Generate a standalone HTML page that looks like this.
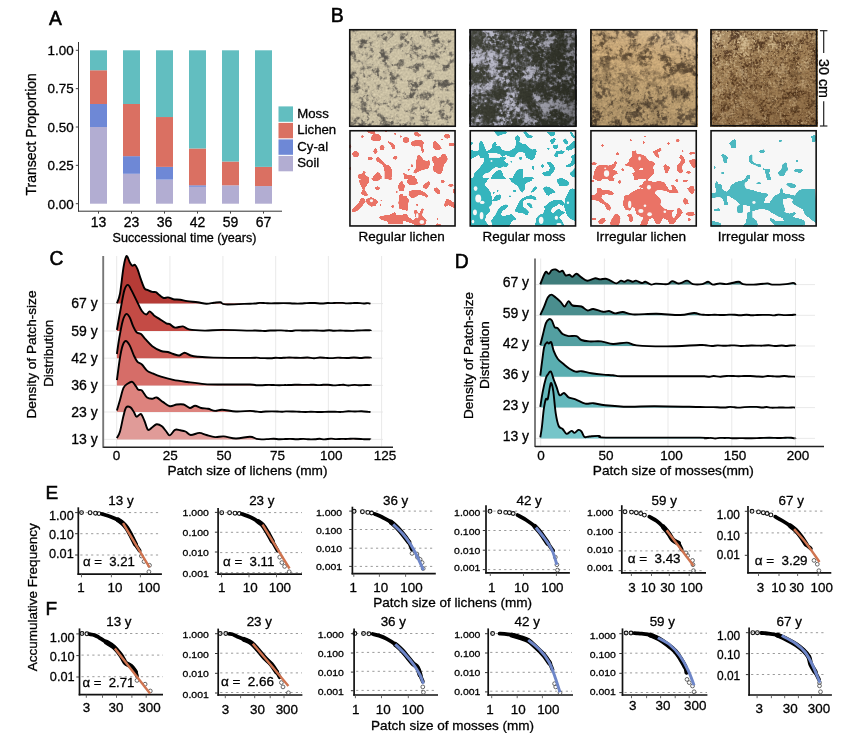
<!DOCTYPE html>
<html><head><meta charset="utf-8"><style>
html,body{margin:0;padding:0;background:#fff;width:860px;height:741px;overflow:hidden}
svg{display:block;filter:blur(0.35px)}
text{font-family:"Liberation Sans", sans-serif;stroke:#000;stroke-width:0.3px}
</style></head><body>
<svg width="860" height="741" viewBox="0 0 860 741">
<text x="49.00" y="25.00" font-size="19.3" text-anchor="start" fill="#000" style="stroke-width:0.55px">A</text>
<line x1="78.50" y1="42.00" x2="78.50" y2="211.60" stroke="#333" stroke-width="1.0"/>
<line x1="78.00" y1="211.20" x2="282.00" y2="211.20" stroke="#333" stroke-width="1.0"/>
<line x1="75.80" y1="203.70" x2="78.50" y2="203.70" stroke="#444" stroke-width="1"/>
<text x="73.60" y="208.50" font-size="13.4" text-anchor="end" fill="#000">0.00</text>
<line x1="75.80" y1="165.35" x2="78.50" y2="165.35" stroke="#444" stroke-width="1"/>
<text x="73.60" y="170.15" font-size="13.4" text-anchor="end" fill="#000">0.25</text>
<line x1="75.80" y1="127.00" x2="78.50" y2="127.00" stroke="#444" stroke-width="1"/>
<text x="73.60" y="131.80" font-size="13.4" text-anchor="end" fill="#000">0.50</text>
<line x1="75.80" y1="88.65" x2="78.50" y2="88.65" stroke="#444" stroke-width="1"/>
<text x="73.60" y="93.45" font-size="13.4" text-anchor="end" fill="#000">0.75</text>
<line x1="75.80" y1="50.30" x2="78.50" y2="50.30" stroke="#444" stroke-width="1"/>
<text x="73.60" y="55.10" font-size="13.4" text-anchor="end" fill="#000">1.00</text>
<rect x="90.00" y="127.00" width="17.00" height="76.70" fill="#B2ADD2"/>
<rect x="90.00" y="103.99" width="17.00" height="23.01" fill="#6E88D6"/>
<rect x="90.00" y="70.24" width="17.00" height="33.75" fill="#DA7062"/>
<rect x="90.00" y="50.30" width="17.00" height="19.94" fill="#62BEC0"/>
<line x1="98.50" y1="211.20" x2="98.50" y2="213.60" stroke="#444" stroke-width="1"/>
<text x="98.50" y="226.90" font-size="14" text-anchor="middle" fill="#000">13</text>
<rect x="123.00" y="173.79" width="17.00" height="29.91" fill="#B2ADD2"/>
<rect x="123.00" y="156.15" width="17.00" height="17.64" fill="#6E88D6"/>
<rect x="123.00" y="103.99" width="17.00" height="52.16" fill="#DA7062"/>
<rect x="123.00" y="50.30" width="17.00" height="53.69" fill="#62BEC0"/>
<line x1="131.50" y1="211.20" x2="131.50" y2="213.60" stroke="#444" stroke-width="1"/>
<text x="131.50" y="226.90" font-size="14" text-anchor="middle" fill="#000">23</text>
<rect x="156.00" y="179.62" width="17.00" height="24.08" fill="#B2ADD2"/>
<rect x="156.00" y="166.88" width="17.00" height="12.73" fill="#6E88D6"/>
<rect x="156.00" y="117.03" width="17.00" height="49.85" fill="#DA7062"/>
<rect x="156.00" y="50.30" width="17.00" height="66.73" fill="#62BEC0"/>
<line x1="164.50" y1="211.20" x2="164.50" y2="213.60" stroke="#444" stroke-width="1"/>
<text x="164.50" y="226.90" font-size="14" text-anchor="middle" fill="#000">36</text>
<rect x="189.00" y="186.83" width="17.00" height="16.87" fill="#B2ADD2"/>
<rect x="189.00" y="185.29" width="17.00" height="1.53" fill="#6E88D6"/>
<rect x="189.00" y="148.48" width="17.00" height="36.82" fill="#DA7062"/>
<rect x="189.00" y="50.30" width="17.00" height="98.18" fill="#62BEC0"/>
<line x1="197.50" y1="211.20" x2="197.50" y2="213.60" stroke="#444" stroke-width="1"/>
<text x="197.50" y="226.90" font-size="14" text-anchor="middle" fill="#000">42</text>
<rect x="222.00" y="185.29" width="17.00" height="18.41" fill="#B2ADD2"/>
<rect x="222.00" y="161.51" width="17.00" height="23.78" fill="#DA7062"/>
<rect x="222.00" y="50.30" width="17.00" height="111.22" fill="#62BEC0"/>
<line x1="230.50" y1="211.20" x2="230.50" y2="213.60" stroke="#444" stroke-width="1"/>
<text x="230.50" y="226.90" font-size="14" text-anchor="middle" fill="#000">59</text>
<rect x="255.00" y="186.06" width="17.00" height="17.64" fill="#B2ADD2"/>
<rect x="255.00" y="166.88" width="17.00" height="19.17" fill="#DA7062"/>
<rect x="255.00" y="50.30" width="17.00" height="116.58" fill="#62BEC0"/>
<line x1="263.50" y1="211.20" x2="263.50" y2="213.60" stroke="#444" stroke-width="1"/>
<text x="263.50" y="226.90" font-size="14" text-anchor="middle" fill="#000">67</text>
<text x="112.50" y="241.60" font-size="13" text-anchor="start" fill="#000" textLength="144" lengthAdjust="spacingAndGlyphs">Successional time (years)</text>
<text x="36.20" y="134.30" font-size="14" text-anchor="middle" fill="#000" transform="rotate(-90 36.2 134.3)">Transect Proportion</text>
<rect x="278.50" y="106.40" width="14.50" height="15.40" fill="#62BEC0"/>
<text x="297.30" y="117.90" font-size="13.2" text-anchor="start" fill="#000">Moss</text>
<rect x="278.50" y="122.90" width="14.50" height="15.40" fill="#DA7062"/>
<text x="297.30" y="134.40" font-size="13.2" text-anchor="start" fill="#000">Lichen</text>
<rect x="278.50" y="139.40" width="14.50" height="15.40" fill="#6E88D6"/>
<text x="297.30" y="150.90" font-size="13.2" text-anchor="start" fill="#000">Cy-al</text>
<rect x="278.50" y="155.90" width="14.50" height="15.40" fill="#B2ADD2"/>
<text x="297.30" y="167.40" font-size="13.2" text-anchor="start" fill="#000">Soil</text>
<text x="330.80" y="22.00" font-size="19.5" text-anchor="start" fill="#000" style="stroke-width:0.55px">B</text>
<defs>
<filter id="tex1" x="0" y="0" width="100%" height="100%" color-interpolation-filters="sRGB"><feTurbulence type="fractalNoise" baseFrequency="0.5" numOctaves="2" seed="1" result="gr"/><feColorMatrix in="gr" type="matrix" values="0.191 0 0 0 0.701 0.182 0 0 0 0.666 0.155 0 0 0 0.569 0 0 0 0 1" result="acc"/><feTurbulence type="fractalNoise" baseFrequency="0.1" numOctaves="4" seed="11" result="L0c"/><feTurbulence type="fractalNoise" baseFrequency="0.3" numOctaves="2" seed="4" result="L0f"/><feComposite in="L0c" in2="L0f" operator="arithmetic" k1="0" k2="0.65" k3="0.35" k4="0" result="L0n"/><feColorMatrix in="L0n" type="matrix" values="0 0 0 0 0.612 0 0 0 0 0.580 0 0 0 0 0.510 -6.000 0 0 0 3.180" result="L0"/><feComposite in="L0" in2="acc" operator="over" result="acc"/><feTurbulence type="fractalNoise" baseFrequency="0.1" numOctaves="4" seed="11" result="L1c"/><feTurbulence type="fractalNoise" baseFrequency="0.3" numOctaves="2" seed="4" result="L1f"/><feComposite in="L1c" in2="L1f" operator="arithmetic" k1="0" k2="0.65" k3="0.35" k4="0" result="L1n"/><feColorMatrix in="L1n" type="matrix" values="0 0 0 0 0.361 0 0 0 0 0.345 0 0 0 0 0.314 -6.000 0 0 0 2.760" result="L1"/><feComposite in="L1" in2="acc" operator="over" result="acc"/><feGaussianBlur in="acc" stdDeviation="0.6"/></filter>
<filter id="tex2" x="0" y="0" width="100%" height="100%" color-interpolation-filters="sRGB"><feTurbulence type="fractalNoise" baseFrequency="0.5" numOctaves="2" seed="1" result="gr"/><feColorMatrix in="gr" type="matrix" values="0.076 0 0 0 0.174 0.079 0 0 0 0.180 0.065 0 0 0 0.148 0 0 0 0 1" result="acc"/><feTurbulence type="fractalNoise" baseFrequency="0.06" numOctaves="4" seed="23" result="L0c"/><feTurbulence type="fractalNoise" baseFrequency="0.3" numOctaves="2" seed="6" result="L0f"/><feComposite in="L0c" in2="L0f" operator="arithmetic" k1="0" k2="0.6" k3="0.4" k4="0" result="L0n"/><feColorMatrix in="L0n" type="matrix" values="0 0 0 0 0.478 0 0 0 0 0.478 0 0 0 0 0.518 5.000 0 0 0 -2.150" result="L0"/><feComposite in="L0" in2="acc" operator="over" result="acc"/><feTurbulence type="fractalNoise" baseFrequency="0.06" numOctaves="4" seed="23" result="L1c"/><feTurbulence type="fractalNoise" baseFrequency="0.3" numOctaves="2" seed="6" result="L1f"/><feComposite in="L1c" in2="L1f" operator="arithmetic" k1="0" k2="0.6" k3="0.4" k4="0" result="L1n"/><feColorMatrix in="L1n" type="matrix" values="0 0 0 0 0.722 0 0 0 0 0.722 0 0 0 0 0.784 7.000 0 0 0 -3.640" result="L1"/><feComposite in="L1" in2="acc" operator="over" result="acc"/><feGaussianBlur in="acc" stdDeviation="0.55"/></filter>
<filter id="tex3" x="0" y="0" width="100%" height="100%" color-interpolation-filters="sRGB"><feTurbulence type="fractalNoise" baseFrequency="0.5" numOctaves="2" seed="1" result="gr"/><feColorMatrix in="gr" type="matrix" values="0.196 0 0 0 0.718 0.164 0 0 0 0.600 0.117 0 0 0 0.428 0 0 0 0 1" result="acc"/><feTurbulence type="fractalNoise" baseFrequency="0.08" numOctaves="4" seed="5" result="L0c"/><feTurbulence type="fractalNoise" baseFrequency="0.3" numOctaves="2" seed="8" result="L0f"/><feComposite in="L0c" in2="L0f" operator="arithmetic" k1="0" k2="0.65" k3="0.35" k4="0" result="L0n"/><feColorMatrix in="L0n" type="matrix" values="0 0 0 0 0.553 0 0 0 0 0.451 0 0 0 0 0.314 -6.000 0 0 0 3.360" result="L0"/><feComposite in="L0" in2="acc" operator="over" result="acc"/><feTurbulence type="fractalNoise" baseFrequency="0.08" numOctaves="4" seed="5" result="L1c"/><feTurbulence type="fractalNoise" baseFrequency="0.3" numOctaves="2" seed="8" result="L1f"/><feComposite in="L1c" in2="L1f" operator="arithmetic" k1="0" k2="0.65" k3="0.35" k4="0" result="L1n"/><feColorMatrix in="L1n" type="matrix" values="0 0 0 0 0.329 0 0 0 0 0.259 0 0 0 0 0.180 -6.000 0 0 0 2.880" result="L1"/><feComposite in="L1" in2="acc" operator="over" result="acc"/><feGaussianBlur in="acc" stdDeviation="0.6"/></filter>
<filter id="tex4" x="0" y="0" width="100%" height="100%" color-interpolation-filters="sRGB"><feTurbulence type="fractalNoise" baseFrequency="0.5" numOctaves="2" seed="1" result="gr"/><feColorMatrix in="gr" type="matrix" values="0.198 0 0 0 0.560 0.162 0 0 0 0.460 0.113 0 0 0 0.320 0 0 0 0 1" result="acc"/><feTurbulence type="fractalNoise" baseFrequency="0.1" numOctaves="4" seed="17" result="L0c"/><feTurbulence type="fractalNoise" baseFrequency="0.45" numOctaves="2" seed="2" result="L0f"/><feComposite in="L0c" in2="L0f" operator="arithmetic" k1="0" k2="0.5" k3="0.5" k4="0" result="L0n"/><feColorMatrix in="L0n" type="matrix" values="0 0 0 0 0.478 0 0 0 0 0.353 0 0 0 0 0.220 -6.000 0 0 0 3.300" result="L0"/><feComposite in="L0" in2="acc" operator="over" result="acc"/><feTurbulence type="fractalNoise" baseFrequency="0.1" numOctaves="4" seed="17" result="L1c"/><feTurbulence type="fractalNoise" baseFrequency="0.45" numOctaves="2" seed="2" result="L1f"/><feComposite in="L1c" in2="L1f" operator="arithmetic" k1="0" k2="0.5" k3="0.5" k4="0" result="L1n"/><feColorMatrix in="L1n" type="matrix" values="0 0 0 0 0.306 0 0 0 0 0.204 0 0 0 0 0.125 -7.000 0 0 0 3.430" result="L1"/><feComposite in="L1" in2="acc" operator="over" result="acc"/><feTurbulence type="fractalNoise" baseFrequency="0.08" numOctaves="4" seed="31" result="L2c"/><feTurbulence type="fractalNoise" baseFrequency="0.5" numOctaves="2" seed="3" result="L2f"/><feComposite in="L2c" in2="L2f" operator="arithmetic" k1="0" k2="0.45" k3="0.55" k4="0" result="L2n"/><feColorMatrix in="L2n" type="matrix" values="0 0 0 0 0.863 0 0 0 0 0.773 0 0 0 0 0.604 6.000 0 0 0 -3.000" result="L2"/><feComposite in="L2" in2="acc" operator="over" result="acc"/><feGaussianBlur in="acc" stdDeviation="0.55"/></filter>
<filter id="tex3b" x="0" y="0" width="100%" height="100%" color-interpolation-filters="sRGB"><feTurbulence type="fractalNoise" baseFrequency="0.5" numOctaves="2" seed="1" result="gr"/><feColorMatrix in="gr" type="matrix" values="0.225 0 0 0 0.637 0.191 0 0 0 0.540 0.136 0 0 0 0.387 0 0 0 0 1" result="acc"/><feTurbulence type="fractalNoise" baseFrequency="0.09" numOctaves="4" seed="41" result="L0c"/><feTurbulence type="fractalNoise" baseFrequency="0.35" numOctaves="2" seed="9" result="L0f"/><feComposite in="L0c" in2="L0f" operator="arithmetic" k1="0" k2="0.6" k3="0.4" k4="0" result="L0n"/><feColorMatrix in="L0n" type="matrix" values="0 0 0 0 0.494 0 0 0 0 0.416 0 0 0 0 0.298 -6.000 0 0 0 3.300" result="L0"/><feComposite in="L0" in2="acc" operator="over" result="acc"/><feTurbulence type="fractalNoise" baseFrequency="0.09" numOctaves="4" seed="41" result="L1c"/><feTurbulence type="fractalNoise" baseFrequency="0.35" numOctaves="2" seed="9" result="L1f"/><feComposite in="L1c" in2="L1f" operator="arithmetic" k1="0" k2="0.6" k3="0.4" k4="0" result="L1n"/><feColorMatrix in="L1n" type="matrix" values="0 0 0 0 0.267 0 0 0 0 0.216 0 0 0 0 0.165 -6.000 0 0 0 2.880" result="L1"/><feComposite in="L1" in2="acc" operator="over" result="acc"/><feGaussianBlur in="acc" stdDeviation="0.55"/></filter>
<filter id="tex4b" x="0" y="0" width="100%" height="100%" color-interpolation-filters="sRGB"><feTurbulence type="fractalNoise" baseFrequency="0.5" numOctaves="2" seed="1" result="gr"/><feColorMatrix in="gr" type="matrix" values="0.184 0 0 0 0.520 0.144 0 0 0 0.407 0.094 0 0 0 0.267 0 0 0 0 1" result="acc"/><feTurbulence type="fractalNoise" baseFrequency="0.1" numOctaves="4" seed="51" result="L0c"/><feTurbulence type="fractalNoise" baseFrequency="0.4" numOctaves="2" seed="5" result="L0f"/><feComposite in="L0c" in2="L0f" operator="arithmetic" k1="0" k2="0.55" k3="0.45" k4="0" result="L0n"/><feColorMatrix in="L0n" type="matrix" values="0 0 0 0 0.431 0 0 0 0 0.298 0 0 0 0 0.173 -6.000 0 0 0 3.300" result="L0"/><feComposite in="L0" in2="acc" operator="over" result="acc"/><feTurbulence type="fractalNoise" baseFrequency="0.1" numOctaves="4" seed="51" result="L1c"/><feTurbulence type="fractalNoise" baseFrequency="0.4" numOctaves="2" seed="5" result="L1f"/><feComposite in="L1c" in2="L1f" operator="arithmetic" k1="0" k2="0.55" k3="0.45" k4="0" result="L1n"/><feColorMatrix in="L1n" type="matrix" values="0 0 0 0 0.290 0 0 0 0 0.188 0 0 0 0 0.094 -7.000 0 0 0 3.360" result="L1"/><feComposite in="L1" in2="acc" operator="over" result="acc"/><feTurbulence type="fractalNoise" baseFrequency="0.1" numOctaves="4" seed="53" result="L2c"/><feTurbulence type="fractalNoise" baseFrequency="0.45" numOctaves="2" seed="6" result="L2f"/><feComposite in="L2c" in2="L2f" operator="arithmetic" k1="0" k2="0.45" k3="0.55" k4="0" result="L2n"/><feColorMatrix in="L2n" type="matrix" values="0 0 0 0 0.816 0 0 0 0 0.706 0 0 0 0 0.533 7.000 0 0 0 -3.920" result="L2"/><feComposite in="L2" in2="acc" operator="over" result="acc"/><feGaussianBlur in="acc" stdDeviation="0.55"/></filter>
</defs>
<defs><linearGradient id="g3" x1="0.5" y1="0" x2="0.2" y2="1"><stop offset="0" stop-color="#fff" stop-opacity="0.15"/><stop offset="0.35" stop-color="#3a2c1c" stop-opacity="0"/><stop offset="1" stop-color="#3a2c1c" stop-opacity="0.12"/></linearGradient><linearGradient id="g2" x1="0" y1="0.3" x2="1" y2="0.5"><stop offset="0" stop-color="#fff" stop-opacity="0.06"/><stop offset="0.5" stop-color="#15170f" stop-opacity="0"/><stop offset="1" stop-color="#15170f" stop-opacity="0.35"/></linearGradient><linearGradient id="g4" x1="0" y1="0" x2="0.3" y2="1"><stop offset="0" stop-color="#fff" stop-opacity="0.08"/><stop offset="0.4" stop-color="#5a3a1e" stop-opacity="0.05"/><stop offset="1" stop-color="#4a2e16" stop-opacity="0.2"/></linearGradient></defs>
<defs><linearGradient id="mg3" x1="0.6" y1="0" x2="0.3" y2="1"><stop offset="0" stop-color="#fff" stop-opacity="0"/><stop offset="0.3" stop-color="#fff" stop-opacity="0.05"/><stop offset="0.6" stop-color="#fff" stop-opacity="0.7"/><stop offset="1" stop-color="#fff" stop-opacity="0.9"/></linearGradient><mask id="mk3" maskContentUnits="objectBoundingBox"><rect x="0" y="0" width="1" height="1" fill="url(#mg3)"/></mask><linearGradient id="mg4" x1="0.1" y1="0" x2="0.5" y2="1"><stop offset="0" stop-color="#fff" stop-opacity="0"/><stop offset="0.35" stop-color="#fff" stop-opacity="0.25"/><stop offset="1" stop-color="#fff" stop-opacity="0.85"/></linearGradient><mask id="mk4" maskContentUnits="objectBoundingBox"><rect x="0" y="0" width="1" height="1" fill="url(#mg4)"/></mask></defs>
<rect x="349" y="29" width="107" height="98" filter="url(#tex1)"/>
<rect x="349.75" y="29.75" width="105.5" height="96.5" fill="none" stroke="#111" stroke-width="1.6"/>
<rect x="469.5" y="29" width="107" height="98" filter="url(#tex2)"/>
<rect x="469.5" y="29" width="107" height="98" fill="url(#g2)"/>
<rect x="470.25" y="29.75" width="105.5" height="96.5" fill="none" stroke="#111" stroke-width="1.6"/>
<rect x="590.2" y="29" width="107" height="98" filter="url(#tex3)"/>
<rect x="590.2" y="29" width="107" height="98" filter="url(#tex3b)" mask="url(#mk3)"/>
<rect x="590.2" y="29" width="107" height="98" fill="url(#g3)"/>
<rect x="590.95" y="29.75" width="105.5" height="96.5" fill="none" stroke="#111" stroke-width="1.6"/>
<rect x="710.3" y="29" width="107" height="97.5" filter="url(#tex4)"/>
<rect x="710.3" y="29" width="107" height="97.5" filter="url(#tex4b)" mask="url(#mk4)"/>
<rect x="710.3" y="29" width="107" height="97.5" fill="url(#g4)"/>
<rect x="711.05" y="29.75" width="105.5" height="96.0" fill="none" stroke="#111" stroke-width="1.6"/>
<defs><filter id="goo" x="-5%" y="-5%" width="110%" height="110%"><feGaussianBlur stdDeviation="0.7"/><feComponentTransfer><feFuncA type="linear" slope="5" intercept="-1.2"/></feComponentTransfer></filter></defs>
<rect x="349.2" y="130" width="106.6" height="96.7" fill="#F7F7F7"/>
<g clip-path="url(#mclip0)"><clipPath id="mclip0"><rect x="349.2" y="130" width="106.6" height="96.7"/></clipPath><g fill="#EA7366" filter="url(#goo)"><polygon points="366.18,131.32 374.78,131.32 375.44,133.97 379.40,134.63 381.39,137.93 380.06,140.58 375.44,141.24 371.47,139.91 371.14,137.27 373.46,133.97 368.83,132.97"/><ellipse cx="362.22" cy="136.61" rx="1.32" ry="1.06"/><ellipse cx="395.27" cy="133.64" rx="0.99" ry="0.99"/><ellipse cx="400.88" cy="136.61" rx="0.99" ry="0.99"/><ellipse cx="386.01" cy="131.32" rx="1.19" ry="0.79"/><polygon points="388.00,141.24 391.30,142.56 394.61,145.20 394.61,149.17 392.62,149.17 391.30,145.86 388.66,143.22"/><ellipse cx="382.05" cy="147.52" rx="2.31" ry="2.51"/><ellipse cx="375.44" cy="151.15" rx="1.85" ry="2.78"/><ellipse cx="355.61" cy="154.12" rx="3.17" ry="2.97"/><ellipse cx="370.15" cy="158.75" rx="2.51" ry="1.45"/><ellipse cx="395.27" cy="157.76" rx="2.12" ry="1.72"/><polygon points="376.10,158.42 378.08,157.10 384.03,162.39 384.69,164.37 389.32,165.69 391.96,169.66 391.96,176.27 390.64,178.98 384.69,178.98 384.69,170.98 383.37,165.69 380.06,163.05 376.76,161.06"/><polygon points="357.59,174.94 362.22,173.62 363.54,170.98 365.52,172.30 364.86,174.94 368.83,177.59 368.83,178.98 358.91,178.98"/><polygon points="372.13,178.98 374.12,175.61 377.42,172.30 379.40,172.96 381.39,176.27 381.39,178.98"/><ellipse cx="350.32" cy="146.52" rx="0.99" ry="1.98"/><ellipse cx="350.32" cy="168.34" rx="0.79" ry="1.32"/><polygon points="413.90,132.64 417.20,132.31 419.85,133.97 421.17,135.29 419.18,136.61 415.22,135.95"/><ellipse cx="405.97" cy="139.91" rx="2.97" ry="2.64"/><polygon points="410.59,142.56 413.24,141.24 415.88,139.91 421.17,139.91 423.81,142.56 422.49,147.18 424.47,151.15 422.49,153.13 421.17,149.83 420.51,146.52 416.54,145.86 413.90,146.52 411.25,144.54"/><polygon points="433.06,142.56 435.05,140.91 437.03,142.56 439.01,144.54 441.66,148.51 439.67,149.83 435.05,149.83 433.06,147.18"/><polygon points="444.30,134.63 448.27,133.97 450.25,135.95 449.59,137.93 446.94,138.59 444.30,137.27"/><ellipse cx="451.57" cy="144.54" rx="2.97" ry="1.45"/><ellipse cx="441.66" cy="139.58" rx="0.99" ry="0.79"/><polygon points="417.20,155.78 419.85,155.12 421.83,157.76 423.81,160.40 427.78,161.06 429.10,159.08 429.76,164.37 428.44,168.34 423.15,169.66 419.18,170.98 415.22,173.62 413.24,172.30 415.88,168.34 415.88,164.37 416.54,160.40"/><polygon points="431.74,157.76 433.73,156.44 436.37,156.44 437.69,158.42 440.34,157.10 442.32,154.46 445.62,154.46 447.61,159.08 445.62,163.05 443.64,164.37 442.98,169.66 441.00,173.62 437.69,173.62 433.73,170.98 433.06,167.01 434.39,164.37 432.40,161.06"/><ellipse cx="411.91" cy="165.69" rx="1.19" ry="1.19"/><ellipse cx="408.61" cy="169.66" rx="0.99" ry="0.99"/><polygon points="403.32,172.96 407.29,174.94 411.25,175.61 414.56,176.27 415.22,178.98 404.64,178.98"/><polygon points="358.91,179.98 368.83,178.00 368.83,181.97 366.18,185.93 364.20,189.24 366.85,193.20 368.17,195.18 364.20,195.85 360.90,193.20 362.88,189.24 360.24,184.61"/><polygon points="371.47,178.00 380.73,178.00 380.06,179.98 374.12,181.30 372.13,179.98"/><polygon points="386.67,178.00 391.96,178.00 391.30,179.65 388.00,179.32"/><ellipse cx="377.42" cy="188.24" rx="2.31" ry="1.65"/><polygon points="397.91,185.93 401.22,180.64 403.00,181.97 403.00,191.22 399.23,190.56"/><ellipse cx="396.59" cy="191.88" rx="0.99" ry="0.99"/><polygon points="366.18,199.15 370.81,197.17 375.44,199.15 378.08,201.79 375.44,205.76 371.47,206.42 366.85,203.78"/><polygon points="352.30,209.06 357.59,204.44 361.56,197.83 364.20,198.49 365.52,201.79 362.22,205.76 356.93,211.05 352.30,212.37"/><ellipse cx="381.39" cy="200.47" rx="0.79" ry="0.79"/><ellipse cx="380.73" cy="205.10" rx="0.79" ry="0.79"/><ellipse cx="392.62" cy="206.42" rx="1.32" ry="1.19"/><polygon points="399.23,195.18 401.88,193.86 403.00,195.18 403.00,208.40 399.23,208.40 398.57,203.12"/><polygon points="378.74,217.00 383.37,215.67 389.32,215.01 394.61,212.37 396.59,215.01 403.00,215.67 403.00,224.27 396.59,224.27 388.66,224.27 387.34,221.62 383.37,220.30 380.06,218.98"/><polygon points="406.63,181.97 408.61,178.00 415.88,178.00 417.86,183.29 415.22,184.61 409.93,185.27"/><polygon points="402.00,183.29 404.64,185.27 403.98,190.56 402.00,191.22"/><polygon points="423.15,185.27 428.44,181.30 430.42,182.63 428.44,186.59 425.79,189.24 423.15,187.25"/><ellipse cx="442.65" cy="181.30" rx="1.65" ry="1.65"/><ellipse cx="450.91" cy="185.27" rx="2.64" ry="1.32"/><polygon points="433.73,188.58 437.03,187.58 439.67,190.56 440.34,193.20 438.35,194.19 435.05,191.88"/><polygon points="409.27,191.22 413.90,189.90 420.51,190.56 424.47,192.54 427.78,195.85 427.12,197.83 423.81,195.85 419.18,194.52 415.22,197.17 411.91,197.83 408.61,195.18"/><polygon points="402.00,195.85 405.97,195.85 408.61,199.81 407.95,206.42 407.29,211.05 404.64,209.73 402.00,209.73"/><ellipse cx="417.20" cy="204.77" rx="0.99" ry="0.99"/><polygon points="444.30,204.44 446.28,199.15 449.59,199.81 454.22,203.12 454.88,208.40 452.23,207.08 448.27,205.10 444.96,207.08"/><polygon points="402.00,215.01 405.97,213.69 409.27,217.66 413.24,220.30 415.88,217.66 413.90,211.05 415.88,209.73 419.18,213.69 421.83,208.40 423.81,209.06 421.83,215.01 426.46,220.30 425.79,224.27 420.51,225.59 416.54,225.59 411.25,222.94 406.63,221.62 402.00,220.30"/><ellipse cx="437.69" cy="218.98" rx="0.79" ry="0.79"/><polygon points="435.05,225.59 437.03,223.61 440.34,224.27 441.00,225.59"/><ellipse cx="454.22" cy="191.22" rx="0.99" ry="2.64"/></g><g fill="#F7F7F7"><ellipse cx="371.47" cy="200.80" rx="1.65" ry="1.45"/><ellipse cx="417.20" cy="215.67" rx="1.32" ry="2.64"/><ellipse cx="421.83" cy="221.95" rx="2.31" ry="1.98"/></g></g>
<rect x="349.95" y="130.75" width="105.1" height="95.2" fill="none" stroke="#111" stroke-width="1.6"/>
<rect x="469.5" y="130" width="106.8" height="96.7" fill="#F7F7F7"/>
<g clip-path="url(#mclip1)"><clipPath id="mclip1"><rect x="469.5" y="130" width="106.8" height="96.7"/></clipPath><g fill="#35B5BD" filter="url(#goo)"><polygon points="494.12,131.32 506.01,131.32 506.67,133.30 500.73,134.63 498.08,135.95 495.44,133.30"/><polygon points="470.98,149.83 474.95,151.81 478.91,150.49 479.58,142.56 481.56,140.58 483.54,144.54 486.18,151.15 488.83,150.49 492.13,147.85 492.79,143.22 495.44,141.90 496.76,144.54 495.44,146.52 500.06,146.52 502.05,149.83 506.01,151.15 511.30,150.49 515.27,147.18 516.59,141.90 514.61,137.27 517.91,135.29 519.89,137.27 519.23,141.90 523.00,143.88 523.00,151.81 519.23,151.81 516.59,153.79 514.61,156.44 509.98,156.44 506.01,155.12 502.05,156.44 500.06,153.79 496.76,153.13 488.83,152.47 485.52,153.13 484.20,157.76 480.24,157.76 478.91,154.46 475.61,156.44 470.98,159.08"/><polygon points="484.20,157.76 485.52,153.13 488.83,153.79 488.83,157.76 500.06,157.76 502.05,156.44 506.01,157.76 504.03,160.40 506.67,163.05 508.66,164.37 506.01,167.01 503.37,166.35 500.73,167.67 495.44,167.01 491.47,169.66 488.83,172.30 484.86,173.62 482.22,176.27 483.54,178.98 472.97,178.98 474.95,172.30 478.91,169.00 482.22,164.37 484.20,161.73"/><polygon points="490.81,178.98 492.79,174.94 496.76,170.98 500.06,169.66 502.05,172.30 503.37,176.27 506.01,178.98"/><polygon points="511.96,178.98 515.27,172.96 517.91,169.66 523.00,169.00 523.00,178.98"/><ellipse cx="471.64" cy="143.22" rx="0.99" ry="1.32"/><ellipse cx="520.55" cy="158.42" rx="1.32" ry="1.32"/><ellipse cx="511.30" cy="161.73" rx="0.79" ry="0.79"/><polygon points="523.32,131.98 525.97,131.32 528.61,134.63 532.58,135.95 531.91,137.93 527.95,137.93 525.97,135.95"/><polygon points="547.12,131.98 555.05,131.98 554.39,135.29 551.74,136.61 548.44,133.97"/><polygon points="549.76,140.58 553.73,137.93 555.71,139.25 553.73,143.22 551.74,143.88"/><polygon points="562.98,139.91 565.62,138.59 568.27,142.56 566.94,144.54 564.30,143.22"/><polygon points="570.25,131.98 572.23,132.64 574.22,135.95 576.00,135.95 576.00,138.59 572.89,137.27 570.91,134.63"/><polygon points="565.62,147.85 569.59,145.20 572.23,141.90 576.00,139.91 576.00,146.52 572.23,149.17 568.27,150.49 566.28,149.83"/><polygon points="552.40,145.86 557.69,144.54 558.35,147.85 555.71,149.17 553.73,148.51"/><polygon points="554.39,155.12 556.37,151.15 561.66,150.49 564.96,151.81 562.98,153.79 558.35,153.79 557.69,157.10 555.05,157.10"/><polygon points="522.00,144.54 525.97,144.54 529.27,147.85 531.91,149.83 535.88,149.17 536.54,151.15 534.56,157.76 531.91,160.40 528.61,158.42 525.97,157.76 525.30,153.79 522.00,151.15"/><polygon points="541.83,172.96 548.44,170.98 550.42,168.34 548.44,164.37 546.46,162.39 549.76,161.73 553.06,164.37 555.05,168.34 553.06,172.30 549.76,176.27 544.47,176.27"/><ellipse cx="542.49" cy="166.02" rx="1.32" ry="1.65"/><ellipse cx="533.24" cy="167.67" rx="0.99" ry="1.98"/><polygon points="565.62,165.69 570.91,163.05 572.23,159.08 570.91,156.44 574.22,154.46 576.00,154.46 576.00,161.73 573.55,165.03 569.59,167.01 566.28,167.01"/><polygon points="569.59,173.62 572.23,170.98 574.88,168.34 576.00,168.34 576.00,177.59 572.23,176.93"/><polygon points="522.00,178.98 524.64,177.59 528.61,176.93 532.58,177.59 533.90,178.98"/><ellipse cx="548.44" cy="148.84" rx="0.99" ry="0.99"/><polygon points="470.98,178.00 488.83,178.00 486.18,181.97 484.20,184.61 488.17,188.58 490.81,193.20 492.13,199.81 491.47,204.44 488.83,207.08 490.15,211.05 486.18,215.01 484.86,220.30 487.51,224.27 490.81,226.98 470.98,226.98"/><polygon points="508.66,178.00 523.00,178.00 523.00,192.54 520.55,191.22 517.91,185.93 511.96,181.97"/><polygon points="492.13,201.13 495.44,195.85 499.40,194.52 501.39,195.85 500.06,199.15 495.44,201.13"/><ellipse cx="514.61" cy="190.89" rx="1.32" ry="0.99"/><ellipse cx="509.98" cy="196.18" rx="0.99" ry="0.79"/><ellipse cx="497.75" cy="190.89" rx="0.79" ry="0.79"/><ellipse cx="493.79" cy="192.87" rx="0.79" ry="0.79"/><polygon points="514.61,211.05 517.91,204.44 520.55,199.81 523.00,197.83 523.00,212.37 519.23,213.03"/><polygon points="492.13,226.98 491.47,220.30 495.44,215.01 498.08,209.73 500.73,206.42 506.01,204.44 508.66,205.76 506.01,208.40 502.05,211.05 500.73,215.01 503.37,216.34 508.66,215.01 511.30,214.35 515.27,217.66 515.93,220.30 512.62,220.30 509.98,224.27 508.66,226.98"/><polygon points="522.00,178.00 532.58,178.00 531.91,180.64 527.95,181.97 525.30,183.95 524.64,189.24 522.00,192.54"/><polygon points="530.59,191.88 535.22,186.59 537.20,187.25 535.22,190.56 531.91,192.54"/><polygon points="543.15,188.58 545.79,186.59 549.76,187.25 553.73,190.56 555.71,192.54 551.74,193.20 548.44,195.85 546.46,194.52 544.47,191.22"/><polygon points="557.03,179.32 561.66,178.00 565.62,179.98 568.93,181.97 568.27,185.27 562.98,185.93 559.67,185.93 557.69,182.63"/><polygon points="522.00,199.15 525.97,196.51 531.25,195.18 535.88,197.17 536.54,199.81 532.58,199.15 528.61,198.49 524.64,199.81 522.00,201.79"/><polygon points="526.63,203.78 529.27,202.46 531.91,205.10 532.58,207.74 530.59,207.74 527.95,205.10"/><polygon points="522.00,207.08 524.64,207.74 528.61,211.71 527.95,215.01 524.64,214.35 522.00,212.37"/><polygon points="565.62,197.83 569.59,189.90 572.23,188.58 576.00,189.90 576.00,221.62 570.91,218.98 566.94,215.01 564.30,206.42 564.96,201.13"/><polygon points="535.22,225.59 536.54,217.66 539.18,215.01 543.15,213.69 545.13,209.06 543.81,207.08 547.12,204.44 551.08,201.13 556.37,199.81 561.66,200.47 564.30,203.12 562.98,205.76 559.01,203.78 556.37,205.76 552.40,207.74 550.42,211.05 553.06,213.69 556.37,210.39 559.01,208.40 561.66,211.05 564.96,212.37 561.66,215.01 559.01,217.66 561.66,220.30 564.30,225.59"/></g><g fill="#F7F7F7"><ellipse cx="491.47" cy="161.06" rx="0.99" ry="0.99"/><ellipse cx="475.61" cy="188.58" rx="1.85" ry="2.31"/><ellipse cx="478.25" cy="198.49" rx="2.97" ry="3.97"/><ellipse cx="482.22" cy="202.46" rx="2.31" ry="1.65"/><ellipse cx="474.95" cy="212.37" rx="1.98" ry="2.97"/><ellipse cx="481.56" cy="215.67" rx="1.85" ry="3.64"/><ellipse cx="472.97" cy="221.62" rx="1.32" ry="1.98"/><ellipse cx="567.94" cy="202.79" rx="1.19" ry="1.32"/><ellipse cx="541.17" cy="220.30" rx="2.31" ry="3.64"/><ellipse cx="556.37" cy="217.66" rx="1.65" ry="1.98"/><ellipse cx="559.01" cy="224.27" rx="2.64" ry="1.32"/></g></g>
<rect x="470.25" y="130.75" width="105.3" height="95.2" fill="none" stroke="#111" stroke-width="1.6"/>
<rect x="590.2" y="130" width="106.8" height="96.7" fill="#F7F7F7"/>
<g clip-path="url(#mclip2)"><clipPath id="mclip2"><rect x="590.2" y="130" width="106.8" height="96.7"/></clipPath><g fill="#EA7366" filter="url(#goo)"><ellipse cx="602.56" cy="145.53" rx="1.19" ry="0.99"/><ellipse cx="630.65" cy="140.24" rx="0.99" ry="0.99"/><ellipse cx="643.54" cy="142.56" rx="0.79" ry="0.99"/><ellipse cx="617.43" cy="153.79" rx="1.45" ry="1.32"/><ellipse cx="593.97" cy="163.71" rx="2.64" ry="1.19"/><polygon points="593.30,178.98 593.97,172.30 595.95,168.34 597.93,165.69 603.22,165.03 608.51,165.69 613.13,164.37 615.78,161.06 617.10,162.39 615.12,167.01 612.47,169.66 616.44,170.98 617.76,173.62 613.79,174.94 611.81,178.98"/><ellipse cx="622.72" cy="169.66" rx="1.19" ry="1.19"/><polygon points="624.37,165.03 628.34,163.05 629.66,159.08 632.30,156.44 632.30,151.15 636.27,150.49 636.27,153.79 640.23,154.46 644.00,155.12 644.00,167.01 640.23,168.34 637.59,170.98 634.94,170.98 632.30,167.01 627.01,165.69"/><polygon points="632.30,173.62 636.27,170.98 640.23,169.66 644.00,170.98 644.00,178.98 634.94,178.98"/><ellipse cx="644.98" cy="136.61" rx="0.79" ry="0.79"/><ellipse cx="643.99" cy="142.56" rx="1.19" ry="0.79"/><ellipse cx="677.70" cy="140.58" rx="1.65" ry="1.32"/><ellipse cx="668.45" cy="143.55" rx="1.19" ry="0.99"/><ellipse cx="682.66" cy="151.15" rx="0.79" ry="0.79"/><polygon points="652.91,151.81 657.54,149.17 660.85,147.85 661.51,150.49 657.54,152.47 658.86,155.78 659.52,157.76 656.22,157.10"/><polygon points="643.00,156.44 645.64,156.44 648.29,160.40 652.91,161.73 655.56,163.71 652.91,167.01 654.24,172.96 650.93,176.27 648.29,178.98 643.00,178.98"/><polygon points="663.49,166.35 665.47,164.37 668.12,166.35 670.10,167.67 668.12,170.98 667.46,173.62 665.47,172.96"/><polygon points="676.71,165.69 680.01,163.05 681.34,159.74 679.35,157.76 680.67,154.46 683.32,156.44 685.30,161.73 682.66,164.37 682.00,167.01 682.66,172.30 680.01,173.62 677.37,170.98"/><polygon points="688.61,153.13 691.91,151.81 694.55,152.47 695.22,153.79 690.59,154.46"/><polygon points="688.61,161.06 693.23,159.08 695.88,159.74 695.88,167.01 693.23,168.34 690.59,163.71"/><ellipse cx="688.61" cy="172.30" rx="1.98" ry="1.19"/><polygon points="592.64,178.00 601.90,178.00 601.24,180.64 597.93,180.64"/><polygon points="607.18,178.00 614.46,178.00 613.79,180.64 609.83,181.30"/><ellipse cx="592.64" cy="180.97" rx="1.32" ry="1.19"/><ellipse cx="619.74" cy="181.97" rx="1.32" ry="1.65"/><ellipse cx="636.27" cy="178.66" rx="2.64" ry="0.99"/><polygon points="638.91,185.93 642.22,184.61 644.00,183.95 644.00,188.58 640.23,187.25"/><polygon points="591.32,195.18 595.95,194.52 597.27,191.22 596.61,188.58 599.91,187.91 603.22,190.56 607.18,189.90 611.81,191.22 613.79,193.86 611.15,195.18 606.52,193.86 601.90,195.18 601.24,197.83 604.54,201.79 608.51,203.78 611.15,207.74 609.83,210.39 607.18,209.73 604.54,204.44 600.58,202.46 597.27,200.47 591.32,199.81"/><polygon points="623.05,204.44 624.37,195.85 628.34,195.18 631.64,192.54 636.27,189.90 640.23,188.58 644.00,189.24 644.00,217.66 640.23,216.34 636.27,213.69 634.94,207.74 632.30,207.08 630.98,209.06 629.66,210.39 625.69,209.73"/><polygon points="609.83,224.27 611.15,220.30 613.79,216.34 615.12,213.69 617.76,213.69 620.40,217.66 619.74,222.94 617.76,225.59"/><polygon points="597.93,221.62 600.58,218.98 603.88,217.66 605.86,220.30 603.88,222.94 599.91,224.27"/><ellipse cx="593.97" cy="218.98" rx="1.98" ry="1.32"/><polygon points="627.01,215.01 630.98,213.69 632.96,217.66 632.30,221.62 629.66,221.62 629.00,217.66"/><polygon points="640.23,225.59 642.22,219.64 644.00,218.98 644.00,225.59"/><polygon points="643.00,181.97 645.64,180.64 646.97,178.00 648.29,180.64 653.58,181.97 660.18,181.30 664.81,182.63 666.79,186.59 669.44,190.56 672.08,189.90 671.42,184.61 674.06,185.27 677.37,190.56 678.69,192.54 674.06,193.20 669.44,192.54 664.81,190.56 659.52,189.90 655.56,190.56 654.90,193.86 659.52,197.83 660.85,200.47 660.18,204.44 664.81,209.06 669.44,210.39 674.06,209.73 671.42,213.69 672.74,217.66 674.73,217.66 677.37,212.37 677.37,208.40 680.01,208.40 682.66,212.37 680.01,216.34 677.37,218.98 673.40,224.27 669.44,224.27 668.12,220.30 662.83,217.66 659.52,224.27 656.22,224.27 652.91,217.66 648.95,218.98 646.97,225.59 643.00,225.59"/><polygon points="687.28,188.58 690.59,186.59 693.23,185.93 694.55,189.90 693.23,193.86 690.59,193.20"/><polygon points="682.66,201.13 684.64,197.83 687.28,199.15 688.61,203.78 685.30,204.44"/><polygon points="685.30,213.69 689.27,211.71 693.89,211.71 694.55,215.01 690.59,216.34 686.62,215.01"/><ellipse cx="676.71" cy="180.64" rx="1.19" ry="1.32"/><ellipse cx="685.30" cy="180.64" rx="2.64" ry="0.99"/><ellipse cx="689.27" cy="219.64" rx="1.32" ry="1.32"/></g><g fill="#F7F7F7"><ellipse cx="606.52" cy="173.62" rx="2.64" ry="3.30"/><ellipse cx="605.20" cy="168.34" rx="0.99" ry="0.79"/><ellipse cx="639.57" cy="158.42" rx="1.32" ry="1.98"/><ellipse cx="629.66" cy="204.44" rx="1.65" ry="3.64"/><ellipse cx="640.89" cy="211.05" rx="2.64" ry="1.98"/><ellipse cx="648.95" cy="187.25" rx="1.98" ry="2.31"/><ellipse cx="644.98" cy="205.76" rx="1.32" ry="1.32"/><ellipse cx="649.61" cy="214.35" rx="2.31" ry="1.98"/><ellipse cx="664.81" cy="211.71" rx="1.32" ry="1.19"/></g></g>
<rect x="590.95" y="130.75" width="105.3" height="95.2" fill="none" stroke="#111" stroke-width="1.6"/>
<rect x="710.3" y="130" width="106.6" height="96.7" fill="#F7F7F7"/>
<g clip-path="url(#mclip3)"><clipPath id="mclip3"><rect x="710.3" y="130" width="106.6" height="96.7"/></clipPath><g fill="#4DB8C0" filter="url(#goo)"><polygon points="729.17,143.22 732.47,140.58 734.46,139.25 735.78,139.91 735.78,147.85 731.15,147.85 730.49,144.54"/><polygon points="721.24,155.12 723.22,153.79 725.86,155.78 728.51,158.42 726.52,159.74 726.52,163.05 723.88,163.05 723.22,158.42"/><polygon points="749.00,156.44 750.98,154.46 752.30,155.12 752.30,161.06 755.61,163.71 760.23,164.37 761.55,166.35 758.91,167.01 754.94,165.03 750.32,163.05 749.00,160.40"/><polygon points="758.91,151.81 761.55,149.83 764.00,149.83 764.00,152.47 760.23,152.47"/><ellipse cx="714.63" cy="167.67" rx="0.79" ry="1.32"/><ellipse cx="722.56" cy="172.96" rx="1.45" ry="0.79"/><polygon points="745.03,178.98 747.01,174.94 749.66,174.94 750.32,177.59 749.00,178.98"/><ellipse cx="763.54" cy="169.00" rx="0.66" ry="0.99"/><polygon points="811.25,135.95 815.22,135.29 815.88,136.61 815.88,141.24 812.57,141.90"/><ellipse cx="780.18" cy="140.91" rx="1.65" ry="0.79"/><ellipse cx="797.04" cy="161.06" rx="1.65" ry="0.79"/><polygon points="777.54,172.96 781.51,169.66 782.17,165.03 784.81,162.39 786.79,163.05 787.46,168.34 788.12,169.66 785.47,172.30 784.15,175.61 779.52,175.61"/><polygon points="793.40,170.98 796.05,169.00 802.00,169.00 802.66,170.98 800.01,172.96 796.05,171.64"/><polygon points="764.32,169.00 769.61,169.00 770.27,170.98 768.95,172.96 770.27,176.27 770.27,178.98 766.97,178.98 765.64,173.62"/><ellipse cx="763.66" cy="151.15" rx="0.79" ry="1.32"/><polygon points="711.32,193.20 716.61,192.54 715.95,189.24 714.63,183.95 716.61,181.30 718.59,183.95 721.24,184.61 722.56,189.90 727.18,191.88 729.83,188.58 731.15,185.27 736.44,181.97 741.73,180.64 745.03,179.32 747.01,178.00 748.34,179.98 744.37,183.29 744.37,186.59 747.01,189.24 752.30,189.90 757.59,191.88 764.00,193.20 764.00,208.40 760.23,209.06 756.27,209.73 752.96,211.05 750.32,210.39 749.66,205.76 744.37,205.10 740.40,204.44 737.76,201.79 735.12,199.81 729.83,196.51 727.85,195.18 726.52,197.83 727.18,201.13 727.85,204.44 724.54,205.10 723.22,199.15 720.58,197.17 716.61,197.17 711.32,197.83"/><polygon points="737.10,207.08 739.74,204.44 743.05,204.44 743.05,212.37 737.76,213.03"/><polygon points="742.39,226.98 745.69,222.94 747.01,217.66 747.67,212.37 752.30,211.05 752.30,217.66 756.27,220.30 757.59,224.27 756.27,226.98"/><polygon points="713.97,209.06 719.25,208.40 719.91,211.05 714.63,211.05"/><polygon points="711.32,226.98 711.98,220.96 714.63,221.62 719.91,222.94 721.24,224.27 720.58,226.98"/><ellipse cx="758.91" cy="183.29" rx="2.64" ry="0.79"/><ellipse cx="768.95" cy="178.66" rx="1.98" ry="1.32"/><polygon points="786.13,183.95 789.44,182.96 794.06,183.95 796.05,185.93 794.73,187.91 789.44,187.25"/><polygon points="793.40,199.81 794.73,195.85 798.69,190.56 802.66,189.24 815.22,189.24 815.88,222.94 813.23,220.96 809.27,217.66 805.30,215.01 802.66,209.06 798.69,207.08 794.06,204.44 792.08,201.79"/><polygon points="774.90,195.85 779.52,193.86 780.85,188.58 782.17,187.91 782.83,193.20 789.44,194.52 794.73,195.85 793.40,199.81 789.44,197.83 782.83,199.15 782.83,203.12 784.81,209.06 784.15,212.37 789.44,213.69 794.73,212.37 796.05,213.69 792.08,217.00 797.37,218.32 803.98,220.30 805.30,224.27 802.66,225.59 784.81,225.59 784.15,220.96 782.83,218.32 778.20,216.34 772.25,213.03 767.63,209.73 763.00,209.06 763.00,203.12 769.61,203.12 771.59,199.81"/><polygon points="763.00,193.20 767.63,193.86 768.29,195.85 764.98,197.83 764.32,201.13 763.00,201.79"/><polygon points="774.90,225.59 772.25,222.94 769.61,220.30 770.27,218.32 772.91,218.98 775.56,220.96 780.18,220.96 784.15,220.96 784.81,225.59"/></g><g fill="#F7F7F7"><ellipse cx="753.95" cy="202.46" rx="1.65" ry="1.45"/></g></g>
<rect x="711.05" y="130.75" width="105.1" height="95.2" fill="none" stroke="#111" stroke-width="1.6"/>
<text x="358.40" y="241.00" font-size="13.7" text-anchor="start" fill="#000" textLength="86.5" lengthAdjust="spacingAndGlyphs">Regular lichen</text>
<text x="482.60" y="241.00" font-size="13.7" text-anchor="start" fill="#000" textLength="83" lengthAdjust="spacingAndGlyphs">Regular moss</text>
<text x="596.10" y="241.00" font-size="13.7" text-anchor="start" fill="#000" textLength="90" lengthAdjust="spacingAndGlyphs">Irregular lichen</text>
<text x="717.80" y="241.00" font-size="13.7" text-anchor="start" fill="#000" textLength="87" lengthAdjust="spacingAndGlyphs">Irregular moss</text>
<line x1="823.70" y1="30.70" x2="823.70" y2="53.00" stroke="#222" stroke-width="1.2"/>
<line x1="823.70" y1="101.30" x2="823.70" y2="126.00" stroke="#222" stroke-width="1.2"/>
<line x1="819.90" y1="30.70" x2="827.40" y2="30.70" stroke="#222" stroke-width="1.2"/>
<line x1="819.90" y1="126.00" x2="827.40" y2="126.00" stroke="#222" stroke-width="1.2"/>
<text x="819.30" y="78.50" font-size="14.3" text-anchor="middle" fill="#000" transform="rotate(90 819.3 78.5)">30 cm</text>
<line x1="116.70" y1="256.00" x2="116.70" y2="447.30" stroke="#E6E6E6" stroke-width="0.9"/>
<line x1="169.90" y1="256.00" x2="169.90" y2="447.30" stroke="#E6E6E6" stroke-width="0.9"/>
<line x1="222.90" y1="256.00" x2="222.90" y2="447.30" stroke="#E6E6E6" stroke-width="0.9"/>
<line x1="275.70" y1="256.00" x2="275.70" y2="447.30" stroke="#E6E6E6" stroke-width="0.9"/>
<line x1="328.40" y1="256.00" x2="328.40" y2="447.30" stroke="#E6E6E6" stroke-width="0.9"/>
<line x1="381.60" y1="256.00" x2="381.60" y2="447.30" stroke="#E6E6E6" stroke-width="0.9"/>
<line x1="103.20" y1="303.60" x2="383.00" y2="303.60" stroke="#E6E6E6" stroke-width="0.9"/>
<line x1="103.20" y1="331.00" x2="383.00" y2="331.00" stroke="#E6E6E6" stroke-width="0.9"/>
<line x1="103.20" y1="358.20" x2="383.00" y2="358.20" stroke="#E6E6E6" stroke-width="0.9"/>
<line x1="103.20" y1="385.40" x2="383.00" y2="385.40" stroke="#E6E6E6" stroke-width="0.9"/>
<line x1="103.20" y1="412.00" x2="383.00" y2="412.00" stroke="#E6E6E6" stroke-width="0.9"/>
<line x1="103.20" y1="439.40" x2="383.00" y2="439.40" stroke="#E6E6E6" stroke-width="0.9"/>
<path d="M116.90,303.20 C117.42,301.60 118.90,299.57 120.00,293.60 C121.10,287.63 122.42,273.65 123.50,267.40 C124.58,261.15 125.47,256.97 126.50,256.10 C127.53,255.23 128.73,260.60 129.70,262.20 C130.67,263.80 131.43,265.27 132.30,265.70 C133.17,266.13 134.03,264.22 134.90,264.80 C135.77,265.38 136.48,266.72 137.50,269.20 C138.52,271.68 139.83,276.50 141.00,279.70 C142.17,282.90 143.33,286.67 144.50,288.40 C145.67,290.13 146.70,289.52 148.00,290.10 C149.30,290.68 151.00,291.55 152.30,291.90 C153.60,292.25 154.63,291.68 155.80,292.20 C156.97,292.72 157.98,294.03 159.30,295.00 C160.62,295.97 162.25,297.60 163.70,298.00 C165.15,298.40 166.40,297.20 168.00,297.40 C169.60,297.60 171.27,298.82 173.30,299.20 C175.33,299.58 177.88,299.38 180.20,299.70 C182.52,300.02 184.28,300.67 187.20,301.10 C190.12,301.53 194.50,301.87 197.70,302.30 C200.90,302.73 203.68,303.62 206.40,303.70 C209.12,303.78 211.67,303.03 214.00,302.80 C216.33,302.57 218.47,302.03 220.40,302.30 C222.33,302.57 220.67,304.17 225.60,304.40 C230.53,304.63 245.08,303.85 250.00,303.70 C254.92,303.55 253.54,303.62 255.14,303.49 C256.75,303.35 257.94,302.98 259.64,302.91 C261.35,302.85 263.48,303.03 265.37,303.10 C267.27,303.17 269.06,303.34 271.03,303.36 C273.01,303.37 275.14,303.23 277.23,303.20 C279.32,303.16 281.43,303.11 283.57,303.12 C285.72,303.14 288.26,303.24 290.09,303.31 C291.92,303.38 292.78,303.52 294.56,303.55 C296.33,303.59 298.70,303.61 300.73,303.54 C302.75,303.47 305.00,303.24 306.69,303.16 C308.38,303.07 309.49,303.06 310.87,303.02 C312.25,302.99 313.20,302.87 314.97,302.95 C316.74,303.03 319.37,303.48 321.49,303.50 C323.61,303.52 325.91,303.13 327.67,303.06 C329.43,303.00 330.59,303.14 332.04,303.12 C333.50,303.09 334.68,302.96 336.41,302.91 C338.15,302.87 340.78,302.77 342.48,302.86 C344.19,302.94 344.97,303.36 346.64,303.41 C348.31,303.47 350.77,303.25 352.50,303.17 C354.24,303.09 355.20,302.89 357.05,302.93 C358.90,302.98 361.76,303.40 363.59,303.43 C365.42,303.46 366.87,303.07 368.03,303.12 C369.18,303.16 370.09,303.60 370.50,303.70 L370.50,303.60 L116.90,303.60 Z" fill="#B63B36"/>
<path d="M116.90,303.20 C117.42,301.60 118.90,299.57 120.00,293.60 C121.10,287.63 122.42,273.65 123.50,267.40 C124.58,261.15 125.47,256.97 126.50,256.10 C127.53,255.23 128.73,260.60 129.70,262.20 C130.67,263.80 131.43,265.27 132.30,265.70 C133.17,266.13 134.03,264.22 134.90,264.80 C135.77,265.38 136.48,266.72 137.50,269.20 C138.52,271.68 139.83,276.50 141.00,279.70 C142.17,282.90 143.33,286.67 144.50,288.40 C145.67,290.13 146.70,289.52 148.00,290.10 C149.30,290.68 151.00,291.55 152.30,291.90 C153.60,292.25 154.63,291.68 155.80,292.20 C156.97,292.72 157.98,294.03 159.30,295.00 C160.62,295.97 162.25,297.60 163.70,298.00 C165.15,298.40 166.40,297.20 168.00,297.40 C169.60,297.60 171.27,298.82 173.30,299.20 C175.33,299.58 177.88,299.38 180.20,299.70 C182.52,300.02 184.28,300.67 187.20,301.10 C190.12,301.53 194.50,301.87 197.70,302.30 C200.90,302.73 203.68,303.62 206.40,303.70 C209.12,303.78 211.67,303.03 214.00,302.80 C216.33,302.57 218.47,302.03 220.40,302.30 C222.33,302.57 220.67,304.17 225.60,304.40 C230.53,304.63 245.08,303.85 250.00,303.70 C254.92,303.55 253.54,303.62 255.14,303.49 C256.75,303.35 257.94,302.98 259.64,302.91 C261.35,302.85 263.48,303.03 265.37,303.10 C267.27,303.17 269.06,303.34 271.03,303.36 C273.01,303.37 275.14,303.23 277.23,303.20 C279.32,303.16 281.43,303.11 283.57,303.12 C285.72,303.14 288.26,303.24 290.09,303.31 C291.92,303.38 292.78,303.52 294.56,303.55 C296.33,303.59 298.70,303.61 300.73,303.54 C302.75,303.47 305.00,303.24 306.69,303.16 C308.38,303.07 309.49,303.06 310.87,303.02 C312.25,302.99 313.20,302.87 314.97,302.95 C316.74,303.03 319.37,303.48 321.49,303.50 C323.61,303.52 325.91,303.13 327.67,303.06 C329.43,303.00 330.59,303.14 332.04,303.12 C333.50,303.09 334.68,302.96 336.41,302.91 C338.15,302.87 340.78,302.77 342.48,302.86 C344.19,302.94 344.97,303.36 346.64,303.41 C348.31,303.47 350.77,303.25 352.50,303.17 C354.24,303.09 355.20,302.89 357.05,302.93 C358.90,302.98 361.76,303.40 363.59,303.43 C365.42,303.46 366.87,303.07 368.03,303.12 C369.18,303.16 370.09,303.60 370.50,303.70" fill="none" stroke="#000" stroke-width="1.9" stroke-linejoin="round"/>
<path d="M116.90,329.90 C117.57,326.18 119.65,314.23 120.90,307.60 C122.15,300.97 123.23,293.88 124.40,290.10 C125.57,286.32 126.73,284.90 127.90,284.90 C129.07,284.90 129.95,287.48 131.40,290.10 C132.85,292.72 134.85,297.12 136.60,300.60 C138.35,304.08 140.30,308.68 141.90,311.00 C143.50,313.32 144.90,314.43 146.20,314.50 C147.50,314.57 148.40,311.25 149.70,311.40 C151.00,311.55 152.40,314.15 154.00,315.40 C155.60,316.65 157.25,317.58 159.30,318.90 C161.35,320.22 164.55,322.43 166.30,323.30 C168.05,324.17 168.35,323.38 169.80,324.10 C171.25,324.82 172.82,327.22 175.00,327.60 C177.18,327.98 180.57,326.10 182.90,326.40 C185.23,326.70 185.37,328.70 189.00,329.40 C192.63,330.10 199.18,330.52 204.70,330.60 C210.22,330.68 214.55,329.90 222.10,329.90 C229.65,329.90 244.48,330.50 250.00,330.60 C255.52,330.70 253.44,330.50 255.22,330.52 C257.01,330.55 259.11,330.67 260.70,330.75 C262.29,330.82 263.19,331.01 264.77,330.97 C266.34,330.92 268.37,330.55 270.14,330.47 C271.92,330.38 273.60,330.48 275.42,330.45 C277.23,330.43 279.11,330.28 281.04,330.34 C282.97,330.40 285.27,330.70 287.00,330.81 C288.73,330.92 290.00,331.10 291.42,331.02 C292.84,330.95 293.75,330.45 295.54,330.36 C297.33,330.26 300.34,330.42 302.16,330.45 C303.99,330.48 305.04,330.54 306.49,330.53 C307.94,330.51 309.15,330.35 310.87,330.33 C312.60,330.32 314.87,330.38 316.84,330.45 C318.81,330.52 320.60,330.76 322.67,330.73 C324.73,330.70 327.33,330.27 329.21,330.27 C331.09,330.27 332.12,330.67 333.94,330.71 C335.76,330.75 338.23,330.51 340.14,330.51 C342.04,330.51 343.35,330.65 345.37,330.70 C347.39,330.76 350.35,330.88 352.27,330.85 C354.20,330.82 355.33,330.59 356.91,330.50 C358.48,330.42 360.10,330.36 361.74,330.33 C363.37,330.29 365.25,330.30 366.71,330.30 C368.18,330.31 369.87,330.20 370.50,330.34 C371.13,330.47 370.50,330.97 370.50,331.10 L370.50,331.00 L116.90,331.00 Z" fill="#C44B45"/>
<path d="M116.90,329.90 C117.57,326.18 119.65,314.23 120.90,307.60 C122.15,300.97 123.23,293.88 124.40,290.10 C125.57,286.32 126.73,284.90 127.90,284.90 C129.07,284.90 129.95,287.48 131.40,290.10 C132.85,292.72 134.85,297.12 136.60,300.60 C138.35,304.08 140.30,308.68 141.90,311.00 C143.50,313.32 144.90,314.43 146.20,314.50 C147.50,314.57 148.40,311.25 149.70,311.40 C151.00,311.55 152.40,314.15 154.00,315.40 C155.60,316.65 157.25,317.58 159.30,318.90 C161.35,320.22 164.55,322.43 166.30,323.30 C168.05,324.17 168.35,323.38 169.80,324.10 C171.25,324.82 172.82,327.22 175.00,327.60 C177.18,327.98 180.57,326.10 182.90,326.40 C185.23,326.70 185.37,328.70 189.00,329.40 C192.63,330.10 199.18,330.52 204.70,330.60 C210.22,330.68 214.55,329.90 222.10,329.90 C229.65,329.90 244.48,330.50 250.00,330.60 C255.52,330.70 253.44,330.50 255.22,330.52 C257.01,330.55 259.11,330.67 260.70,330.75 C262.29,330.82 263.19,331.01 264.77,330.97 C266.34,330.92 268.37,330.55 270.14,330.47 C271.92,330.38 273.60,330.48 275.42,330.45 C277.23,330.43 279.11,330.28 281.04,330.34 C282.97,330.40 285.27,330.70 287.00,330.81 C288.73,330.92 290.00,331.10 291.42,331.02 C292.84,330.95 293.75,330.45 295.54,330.36 C297.33,330.26 300.34,330.42 302.16,330.45 C303.99,330.48 305.04,330.54 306.49,330.53 C307.94,330.51 309.15,330.35 310.87,330.33 C312.60,330.32 314.87,330.38 316.84,330.45 C318.81,330.52 320.60,330.76 322.67,330.73 C324.73,330.70 327.33,330.27 329.21,330.27 C331.09,330.27 332.12,330.67 333.94,330.71 C335.76,330.75 338.23,330.51 340.14,330.51 C342.04,330.51 343.35,330.65 345.37,330.70 C347.39,330.76 350.35,330.88 352.27,330.85 C354.20,330.82 355.33,330.59 356.91,330.50 C358.48,330.42 360.10,330.36 361.74,330.33 C363.37,330.29 365.25,330.30 366.71,330.30 C368.18,330.31 369.87,330.20 370.50,330.34 C371.13,330.47 370.50,330.97 370.50,331.10" fill="none" stroke="#000" stroke-width="1.9" stroke-linejoin="round"/>
<path d="M116.90,354.00 C117.28,351.40 118.23,343.92 119.20,338.40 C120.17,332.88 121.53,324.97 122.70,320.90 C123.87,316.83 125.03,314.58 126.20,314.00 C127.37,313.42 128.55,315.37 129.70,317.40 C130.85,319.43 131.95,323.72 133.10,326.20 C134.25,328.68 135.28,331.00 136.60,332.30 C137.92,333.60 139.53,332.85 141.00,334.00 C142.47,335.15 143.52,337.17 145.40,339.20 C147.28,341.23 149.70,344.23 152.30,346.20 C154.90,348.17 158.38,350.03 161.00,351.00 C163.62,351.97 165.95,351.50 168.00,352.00 C170.05,352.50 171.40,353.42 173.30,354.00 C175.20,354.58 177.52,355.72 179.40,355.50 C181.28,355.28 182.72,352.70 184.60,352.70 C186.48,352.70 188.52,354.83 190.70,355.50 C192.88,356.17 193.92,356.35 197.70,356.70 C201.48,357.05 204.68,357.40 213.40,357.60 C222.12,357.80 242.86,357.89 250.00,357.90 C257.14,357.91 254.44,357.62 256.25,357.67 C258.07,357.71 259.44,358.06 260.90,358.14 C262.35,358.22 263.31,358.11 264.99,358.13 C266.67,358.14 269.20,358.28 270.99,358.23 C272.77,358.17 274.17,357.84 275.70,357.80 C277.23,357.77 278.64,358.02 280.17,358.00 C281.69,357.99 283.34,357.81 284.85,357.71 C286.36,357.62 287.51,357.45 289.21,357.44 C290.90,357.44 293.09,357.61 295.00,357.68 C296.91,357.75 298.57,357.89 300.66,357.86 C302.76,357.84 305.34,357.46 307.57,357.53 C309.80,357.59 312.00,358.26 314.04,358.25 C316.08,358.25 317.86,357.56 319.81,357.49 C321.75,357.42 323.74,357.74 325.72,357.85 C327.70,357.96 329.65,358.17 331.67,358.13 C333.69,358.09 336.12,357.67 337.85,357.62 C339.59,357.58 340.40,357.79 342.07,357.85 C343.74,357.91 345.88,358.04 347.86,357.98 C349.83,357.93 351.77,357.50 353.90,357.51 C356.03,357.51 358.76,358.01 360.62,358.02 C362.48,358.03 363.43,357.64 365.07,357.56 C366.72,357.49 369.60,357.46 370.50,357.58 C371.40,357.71 370.50,358.18 370.50,358.30 L370.50,358.20 L116.90,358.20 Z" fill="#CD5B55"/>
<path d="M116.90,354.00 C117.28,351.40 118.23,343.92 119.20,338.40 C120.17,332.88 121.53,324.97 122.70,320.90 C123.87,316.83 125.03,314.58 126.20,314.00 C127.37,313.42 128.55,315.37 129.70,317.40 C130.85,319.43 131.95,323.72 133.10,326.20 C134.25,328.68 135.28,331.00 136.60,332.30 C137.92,333.60 139.53,332.85 141.00,334.00 C142.47,335.15 143.52,337.17 145.40,339.20 C147.28,341.23 149.70,344.23 152.30,346.20 C154.90,348.17 158.38,350.03 161.00,351.00 C163.62,351.97 165.95,351.50 168.00,352.00 C170.05,352.50 171.40,353.42 173.30,354.00 C175.20,354.58 177.52,355.72 179.40,355.50 C181.28,355.28 182.72,352.70 184.60,352.70 C186.48,352.70 188.52,354.83 190.70,355.50 C192.88,356.17 193.92,356.35 197.70,356.70 C201.48,357.05 204.68,357.40 213.40,357.60 C222.12,357.80 242.86,357.89 250.00,357.90 C257.14,357.91 254.44,357.62 256.25,357.67 C258.07,357.71 259.44,358.06 260.90,358.14 C262.35,358.22 263.31,358.11 264.99,358.13 C266.67,358.14 269.20,358.28 270.99,358.23 C272.77,358.17 274.17,357.84 275.70,357.80 C277.23,357.77 278.64,358.02 280.17,358.00 C281.69,357.99 283.34,357.81 284.85,357.71 C286.36,357.62 287.51,357.45 289.21,357.44 C290.90,357.44 293.09,357.61 295.00,357.68 C296.91,357.75 298.57,357.89 300.66,357.86 C302.76,357.84 305.34,357.46 307.57,357.53 C309.80,357.59 312.00,358.26 314.04,358.25 C316.08,358.25 317.86,357.56 319.81,357.49 C321.75,357.42 323.74,357.74 325.72,357.85 C327.70,357.96 329.65,358.17 331.67,358.13 C333.69,358.09 336.12,357.67 337.85,357.62 C339.59,357.58 340.40,357.79 342.07,357.85 C343.74,357.91 345.88,358.04 347.86,357.98 C349.83,357.93 351.77,357.50 353.90,357.51 C356.03,357.51 358.76,358.01 360.62,358.02 C362.48,358.03 363.43,357.64 365.07,357.56 C366.72,357.49 369.60,357.46 370.50,357.58 C371.40,357.71 370.50,358.18 370.50,358.30" fill="none" stroke="#000" stroke-width="1.9" stroke-linejoin="round"/>
<path d="M116.90,380.20 C117.42,376.43 119.03,363.40 120.00,357.60 C120.97,351.80 121.73,348.17 122.70,345.40 C123.67,342.63 124.63,341.00 125.80,341.00 C126.97,341.00 128.33,342.93 129.70,345.40 C131.07,347.87 132.70,353.05 134.00,355.80 C135.30,358.55 136.18,360.45 137.50,361.90 C138.82,363.35 140.32,363.05 141.90,364.50 C143.48,365.95 145.27,369.13 147.00,370.60 C148.73,372.07 149.97,372.28 152.30,373.30 C154.63,374.32 157.50,375.60 161.00,376.70 C164.50,377.80 168.93,379.02 173.30,379.90 C177.67,380.78 181.97,381.30 187.20,382.00 C192.43,382.70 198.88,383.68 204.70,384.10 C210.52,384.52 214.55,384.43 222.10,384.50 C229.65,384.57 244.25,384.38 250.00,384.50 C255.75,384.62 254.55,385.12 256.61,385.25 C258.67,385.37 260.34,385.28 262.37,385.23 C264.39,385.17 266.91,384.93 268.76,384.90 C270.61,384.87 271.73,385.00 273.48,385.06 C275.23,385.12 277.54,385.28 279.26,385.28 C280.98,385.29 282.35,385.12 283.81,385.08 C285.27,385.04 286.19,385.11 288.02,385.06 C289.86,385.01 293.01,384.83 294.84,384.79 C296.68,384.74 297.29,384.77 299.01,384.79 C300.73,384.80 303.45,384.88 305.16,384.89 C306.86,384.89 307.79,384.85 309.24,384.84 C310.68,384.83 312.23,384.75 313.82,384.81 C315.42,384.86 317.21,385.18 318.79,385.17 C320.37,385.16 321.78,384.82 323.31,384.75 C324.84,384.68 326.27,384.65 327.97,384.75 C329.67,384.85 331.60,385.31 333.51,385.36 C335.43,385.40 337.81,385.13 339.48,385.03 C341.15,384.94 342.08,384.72 343.56,384.79 C345.04,384.86 346.52,385.45 348.37,385.46 C350.23,385.47 352.76,384.89 354.67,384.87 C356.58,384.85 358.04,385.30 359.83,385.32 C361.62,385.34 363.63,385.03 365.41,384.99 C367.19,384.94 369.65,384.98 370.50,385.07 C371.35,385.15 370.50,385.43 370.50,385.50 L370.50,385.40 L116.90,385.40 Z" fill="#D66D68"/>
<path d="M116.90,380.20 C117.42,376.43 119.03,363.40 120.00,357.60 C120.97,351.80 121.73,348.17 122.70,345.40 C123.67,342.63 124.63,341.00 125.80,341.00 C126.97,341.00 128.33,342.93 129.70,345.40 C131.07,347.87 132.70,353.05 134.00,355.80 C135.30,358.55 136.18,360.45 137.50,361.90 C138.82,363.35 140.32,363.05 141.90,364.50 C143.48,365.95 145.27,369.13 147.00,370.60 C148.73,372.07 149.97,372.28 152.30,373.30 C154.63,374.32 157.50,375.60 161.00,376.70 C164.50,377.80 168.93,379.02 173.30,379.90 C177.67,380.78 181.97,381.30 187.20,382.00 C192.43,382.70 198.88,383.68 204.70,384.10 C210.52,384.52 214.55,384.43 222.10,384.50 C229.65,384.57 244.25,384.38 250.00,384.50 C255.75,384.62 254.55,385.12 256.61,385.25 C258.67,385.37 260.34,385.28 262.37,385.23 C264.39,385.17 266.91,384.93 268.76,384.90 C270.61,384.87 271.73,385.00 273.48,385.06 C275.23,385.12 277.54,385.28 279.26,385.28 C280.98,385.29 282.35,385.12 283.81,385.08 C285.27,385.04 286.19,385.11 288.02,385.06 C289.86,385.01 293.01,384.83 294.84,384.79 C296.68,384.74 297.29,384.77 299.01,384.79 C300.73,384.80 303.45,384.88 305.16,384.89 C306.86,384.89 307.79,384.85 309.24,384.84 C310.68,384.83 312.23,384.75 313.82,384.81 C315.42,384.86 317.21,385.18 318.79,385.17 C320.37,385.16 321.78,384.82 323.31,384.75 C324.84,384.68 326.27,384.65 327.97,384.75 C329.67,384.85 331.60,385.31 333.51,385.36 C335.43,385.40 337.81,385.13 339.48,385.03 C341.15,384.94 342.08,384.72 343.56,384.79 C345.04,384.86 346.52,385.45 348.37,385.46 C350.23,385.47 352.76,384.89 354.67,384.87 C356.58,384.85 358.04,385.30 359.83,385.32 C361.62,385.34 363.63,385.03 365.41,384.99 C367.19,384.94 369.65,384.98 370.50,385.07 C371.35,385.15 370.50,385.43 370.50,385.50" fill="none" stroke="#000" stroke-width="1.9" stroke-linejoin="round"/>
<path d="M116.90,410.60 C117.42,408.85 118.90,403.88 120.00,400.10 C121.10,396.32 122.18,390.67 123.50,387.90 C124.82,385.13 126.43,384.52 127.90,383.50 C129.37,382.48 130.98,381.35 132.30,381.80 C133.62,382.25 134.78,384.88 135.80,386.20 C136.82,387.52 137.38,388.98 138.40,389.70 C139.42,390.42 140.45,389.20 141.90,390.50 C143.35,391.80 145.37,396.13 147.10,397.50 C148.83,398.87 150.70,398.70 152.30,398.70 C153.90,398.70 154.95,396.97 156.70,397.50 C158.45,398.03 160.62,400.45 162.80,401.90 C164.98,403.35 167.48,405.77 169.80,406.20 C172.12,406.63 174.38,404.78 176.70,404.50 C179.02,404.22 181.52,403.92 183.70,404.50 C185.88,405.08 187.90,407.80 189.80,408.00 C191.70,408.20 193.20,405.70 195.10,405.70 C197.00,405.70 199.03,407.48 201.20,408.00 C203.37,408.52 205.78,408.32 208.10,408.80 C210.42,409.28 212.77,410.75 215.10,410.90 C217.43,411.05 218.62,409.60 222.10,409.70 C225.58,409.80 231.35,411.30 236.00,411.50 C240.65,411.70 246.72,410.90 250.00,410.90 C253.28,410.90 253.99,411.30 255.70,411.47 C257.42,411.65 258.60,411.93 260.27,411.93 C261.94,411.92 263.75,411.54 265.73,411.45 C267.70,411.35 270.18,411.36 272.13,411.36 C274.09,411.37 275.85,411.42 277.45,411.48 C279.06,411.55 280.35,411.77 281.77,411.75 C283.19,411.74 284.10,411.42 285.97,411.38 C287.84,411.34 290.76,411.45 292.97,411.52 C295.18,411.58 297.12,411.69 299.23,411.77 C301.33,411.85 303.70,412.01 305.61,412.01 C307.53,412.01 308.77,411.80 310.72,411.79 C312.67,411.77 315.47,411.90 317.32,411.93 C319.16,411.97 319.96,412.02 321.79,412.00 C323.63,411.98 326.11,411.85 328.32,411.82 C330.53,411.78 332.83,411.80 335.03,411.82 C337.23,411.83 339.34,412.01 341.54,411.92 C343.74,411.82 346.02,411.33 348.25,411.26 C350.47,411.19 352.66,411.49 354.88,411.50 C357.10,411.51 359.31,411.25 361.57,411.31 C363.84,411.37 366.98,411.72 368.46,411.85 C369.95,411.98 370.16,412.06 370.50,412.10 L370.50,412.00 L116.90,412.00 Z" fill="#DD837E"/>
<path d="M116.90,410.60 C117.42,408.85 118.90,403.88 120.00,400.10 C121.10,396.32 122.18,390.67 123.50,387.90 C124.82,385.13 126.43,384.52 127.90,383.50 C129.37,382.48 130.98,381.35 132.30,381.80 C133.62,382.25 134.78,384.88 135.80,386.20 C136.82,387.52 137.38,388.98 138.40,389.70 C139.42,390.42 140.45,389.20 141.90,390.50 C143.35,391.80 145.37,396.13 147.10,397.50 C148.83,398.87 150.70,398.70 152.30,398.70 C153.90,398.70 154.95,396.97 156.70,397.50 C158.45,398.03 160.62,400.45 162.80,401.90 C164.98,403.35 167.48,405.77 169.80,406.20 C172.12,406.63 174.38,404.78 176.70,404.50 C179.02,404.22 181.52,403.92 183.70,404.50 C185.88,405.08 187.90,407.80 189.80,408.00 C191.70,408.20 193.20,405.70 195.10,405.70 C197.00,405.70 199.03,407.48 201.20,408.00 C203.37,408.52 205.78,408.32 208.10,408.80 C210.42,409.28 212.77,410.75 215.10,410.90 C217.43,411.05 218.62,409.60 222.10,409.70 C225.58,409.80 231.35,411.30 236.00,411.50 C240.65,411.70 246.72,410.90 250.00,410.90 C253.28,410.90 253.99,411.30 255.70,411.47 C257.42,411.65 258.60,411.93 260.27,411.93 C261.94,411.92 263.75,411.54 265.73,411.45 C267.70,411.35 270.18,411.36 272.13,411.36 C274.09,411.37 275.85,411.42 277.45,411.48 C279.06,411.55 280.35,411.77 281.77,411.75 C283.19,411.74 284.10,411.42 285.97,411.38 C287.84,411.34 290.76,411.45 292.97,411.52 C295.18,411.58 297.12,411.69 299.23,411.77 C301.33,411.85 303.70,412.01 305.61,412.01 C307.53,412.01 308.77,411.80 310.72,411.79 C312.67,411.77 315.47,411.90 317.32,411.93 C319.16,411.97 319.96,412.02 321.79,412.00 C323.63,411.98 326.11,411.85 328.32,411.82 C330.53,411.78 332.83,411.80 335.03,411.82 C337.23,411.83 339.34,412.01 341.54,411.92 C343.74,411.82 346.02,411.33 348.25,411.26 C350.47,411.19 352.66,411.49 354.88,411.50 C357.10,411.51 359.31,411.25 361.57,411.31 C363.84,411.37 366.98,411.72 368.46,411.85 C369.95,411.98 370.16,412.06 370.50,412.10" fill="none" stroke="#000" stroke-width="1.9" stroke-linejoin="round"/>
<path d="M116.90,438.10 C117.42,437.00 118.90,435.22 120.00,431.50 C121.10,427.78 122.47,419.82 123.50,415.80 C124.53,411.78 125.03,408.80 126.20,407.40 C127.37,406.00 129.20,406.58 130.50,407.40 C131.80,408.22 132.98,410.75 134.00,412.30 C135.02,413.85 135.43,416.40 136.60,416.70 C137.77,417.00 139.68,413.38 141.00,414.10 C142.32,414.82 143.33,418.38 144.50,421.00 C145.67,423.62 146.70,428.77 148.00,429.80 C149.30,430.83 150.85,428.13 152.30,427.20 C153.75,426.27 155.10,424.35 156.70,424.20 C158.30,424.05 160.30,425.08 161.90,426.30 C163.50,427.52 164.98,429.98 166.30,431.50 C167.62,433.02 168.35,435.68 169.80,435.40 C171.25,435.12 173.27,430.65 175.00,429.80 C176.73,428.95 178.45,430.02 180.20,430.30 C181.95,430.58 183.75,430.72 185.50,431.50 C187.25,432.28 188.38,434.77 190.70,435.00 C193.02,435.23 196.78,432.90 199.40,432.90 C202.02,432.90 203.78,434.30 206.40,435.00 C209.02,435.70 212.20,436.87 215.10,437.10 C218.00,437.33 220.32,436.17 223.80,436.40 C227.28,436.63 231.63,438.45 236.00,438.50 C240.37,438.55 246.58,436.65 250.00,436.70 C253.42,436.75 254.62,438.39 256.55,438.83 C258.48,439.26 259.63,439.30 261.59,439.34 C263.54,439.38 266.24,439.18 268.29,439.08 C270.33,438.98 272.04,438.70 273.88,438.74 C275.72,438.77 277.41,439.22 279.33,439.27 C281.25,439.32 283.57,439.09 285.39,439.03 C287.20,438.97 288.28,438.86 290.20,438.90 C292.12,438.94 294.72,439.28 296.92,439.27 C299.11,439.26 301.35,438.84 303.35,438.85 C305.35,438.85 306.99,439.25 308.92,439.32 C310.85,439.38 313.12,439.34 314.92,439.24 C316.71,439.15 318.07,438.74 319.67,438.76 C321.26,438.79 322.59,439.42 324.48,439.40 C326.37,439.38 329.11,438.69 331.02,438.64 C332.92,438.60 334.17,439.11 335.93,439.14 C337.69,439.17 339.95,438.88 341.57,438.85 C343.18,438.81 344.15,438.96 345.60,438.94 C347.06,438.91 348.65,438.74 350.30,438.70 C351.96,438.66 353.78,438.65 355.55,438.69 C357.31,438.73 359.32,438.83 360.90,438.93 C362.48,439.03 363.51,439.27 365.01,439.31 C366.51,439.35 368.99,439.14 369.90,439.17 C370.82,439.20 370.40,439.44 370.50,439.50 L370.50,439.40 L116.90,439.40 Z" fill="#E09B98"/>
<path d="M116.90,438.10 C117.42,437.00 118.90,435.22 120.00,431.50 C121.10,427.78 122.47,419.82 123.50,415.80 C124.53,411.78 125.03,408.80 126.20,407.40 C127.37,406.00 129.20,406.58 130.50,407.40 C131.80,408.22 132.98,410.75 134.00,412.30 C135.02,413.85 135.43,416.40 136.60,416.70 C137.77,417.00 139.68,413.38 141.00,414.10 C142.32,414.82 143.33,418.38 144.50,421.00 C145.67,423.62 146.70,428.77 148.00,429.80 C149.30,430.83 150.85,428.13 152.30,427.20 C153.75,426.27 155.10,424.35 156.70,424.20 C158.30,424.05 160.30,425.08 161.90,426.30 C163.50,427.52 164.98,429.98 166.30,431.50 C167.62,433.02 168.35,435.68 169.80,435.40 C171.25,435.12 173.27,430.65 175.00,429.80 C176.73,428.95 178.45,430.02 180.20,430.30 C181.95,430.58 183.75,430.72 185.50,431.50 C187.25,432.28 188.38,434.77 190.70,435.00 C193.02,435.23 196.78,432.90 199.40,432.90 C202.02,432.90 203.78,434.30 206.40,435.00 C209.02,435.70 212.20,436.87 215.10,437.10 C218.00,437.33 220.32,436.17 223.80,436.40 C227.28,436.63 231.63,438.45 236.00,438.50 C240.37,438.55 246.58,436.65 250.00,436.70 C253.42,436.75 254.62,438.39 256.55,438.83 C258.48,439.26 259.63,439.30 261.59,439.34 C263.54,439.38 266.24,439.18 268.29,439.08 C270.33,438.98 272.04,438.70 273.88,438.74 C275.72,438.77 277.41,439.22 279.33,439.27 C281.25,439.32 283.57,439.09 285.39,439.03 C287.20,438.97 288.28,438.86 290.20,438.90 C292.12,438.94 294.72,439.28 296.92,439.27 C299.11,439.26 301.35,438.84 303.35,438.85 C305.35,438.85 306.99,439.25 308.92,439.32 C310.85,439.38 313.12,439.34 314.92,439.24 C316.71,439.15 318.07,438.74 319.67,438.76 C321.26,438.79 322.59,439.42 324.48,439.40 C326.37,439.38 329.11,438.69 331.02,438.64 C332.92,438.60 334.17,439.11 335.93,439.14 C337.69,439.17 339.95,438.88 341.57,438.85 C343.18,438.81 344.15,438.96 345.60,438.94 C347.06,438.91 348.65,438.74 350.30,438.70 C351.96,438.66 353.78,438.65 355.55,438.69 C357.31,438.73 359.32,438.83 360.90,438.93 C362.48,439.03 363.51,439.27 365.01,439.31 C366.51,439.35 368.99,439.14 369.90,439.17 C370.82,439.20 370.40,439.44 370.50,439.50" fill="none" stroke="#000" stroke-width="1.9" stroke-linejoin="round"/>
<line x1="103.20" y1="256.00" x2="103.20" y2="447.90" stroke="#777" stroke-width="1.9"/>
<line x1="103.20" y1="447.30" x2="393.00" y2="447.30" stroke="#222" stroke-width="1.5"/>
<line x1="540.70" y1="258.50" x2="540.70" y2="446.50" stroke="#E6E6E6" stroke-width="0.9"/>
<line x1="604.40" y1="258.50" x2="604.40" y2="446.50" stroke="#E6E6E6" stroke-width="0.9"/>
<line x1="668.00" y1="258.50" x2="668.00" y2="446.50" stroke="#E6E6E6" stroke-width="0.9"/>
<line x1="731.80" y1="258.50" x2="731.80" y2="446.50" stroke="#E6E6E6" stroke-width="0.9"/>
<line x1="795.50" y1="258.50" x2="795.50" y2="446.50" stroke="#E6E6E6" stroke-width="0.9"/>
<line x1="535.00" y1="284.60" x2="815.00" y2="284.60" stroke="#E6E6E6" stroke-width="0.9"/>
<line x1="535.00" y1="315.30" x2="815.00" y2="315.30" stroke="#E6E6E6" stroke-width="0.9"/>
<line x1="535.00" y1="346.00" x2="815.00" y2="346.00" stroke="#E6E6E6" stroke-width="0.9"/>
<line x1="535.00" y1="376.70" x2="815.00" y2="376.70" stroke="#E6E6E6" stroke-width="0.9"/>
<line x1="535.00" y1="407.60" x2="815.00" y2="407.60" stroke="#E6E6E6" stroke-width="0.9"/>
<line x1="535.00" y1="438.40" x2="815.00" y2="438.40" stroke="#E6E6E6" stroke-width="0.9"/>
<path d="M540.30,284.30 C540.72,283.22 541.88,279.87 542.80,277.80 C543.72,275.73 544.80,272.57 545.80,271.90 C546.80,271.23 547.82,274.07 548.80,273.80 C549.78,273.53 550.55,271.02 551.70,270.30 C552.85,269.58 554.37,269.23 555.70,269.50 C557.03,269.77 558.55,271.67 559.70,271.90 C560.85,272.13 561.62,270.32 562.60,270.90 C563.58,271.48 564.45,274.75 565.60,275.40 C566.75,276.05 568.35,274.57 569.50,274.80 C570.65,275.03 571.33,276.97 572.50,276.80 C573.67,276.63 575.02,273.70 576.50,273.80 C577.98,273.90 579.60,276.23 581.40,277.40 C583.20,278.57 585.00,280.67 587.30,280.80 C589.60,280.93 593.08,278.43 595.20,278.20 C597.32,277.97 598.23,279.32 600.00,279.40 C601.77,279.48 604.05,278.50 605.80,278.70 C607.55,278.90 608.75,279.82 610.50,280.60 C612.25,281.38 614.57,283.40 616.30,283.40 C618.03,283.40 619.55,280.87 620.90,280.60 C622.25,280.33 623.23,281.88 624.40,281.80 C625.57,281.72 626.53,280.10 627.90,280.10 C629.27,280.10 631.25,281.72 632.60,281.80 C633.95,281.88 634.45,280.40 636.00,280.60 C637.55,280.80 640.35,282.80 641.90,283.00 C643.45,283.20 643.75,281.53 645.30,281.80 C646.85,282.07 649.45,284.30 651.20,284.60 C652.95,284.90 653.10,283.68 655.80,283.60 C658.50,283.52 664.68,284.52 667.40,284.10 C670.12,283.68 670.35,281.22 672.10,281.10 C673.85,280.98 676.35,283.10 677.90,283.40 C679.45,283.70 679.85,283.37 681.40,282.90 C682.95,282.43 685.27,280.40 687.20,280.60 C689.13,280.80 690.48,283.52 693.00,284.10 C695.52,284.68 699.78,284.48 702.30,284.10 C704.82,283.72 706.35,281.72 708.10,281.80 C709.85,281.88 710.85,284.33 712.80,284.60 C714.75,284.87 717.48,283.48 719.80,283.40 C722.12,283.32 723.60,284.37 726.70,284.10 C729.80,283.83 735.68,281.80 738.40,281.80 C741.12,281.80 740.48,283.63 743.00,284.10 C745.52,284.57 749.43,284.72 753.50,284.60 C757.57,284.48 764.30,283.40 767.40,283.40 C770.50,283.40 769.00,284.48 772.10,284.60 C775.20,284.72 782.52,284.38 786.00,284.10 C789.48,283.82 791.45,282.90 793.00,282.90 C794.55,282.90 794.97,283.80 795.30,284.10 C795.63,284.40 795.05,284.60 795.00,284.70 L795.00,284.60 L540.30,284.60 Z" fill="#3F7D7C"/>
<path d="M540.30,284.30 C540.72,283.22 541.88,279.87 542.80,277.80 C543.72,275.73 544.80,272.57 545.80,271.90 C546.80,271.23 547.82,274.07 548.80,273.80 C549.78,273.53 550.55,271.02 551.70,270.30 C552.85,269.58 554.37,269.23 555.70,269.50 C557.03,269.77 558.55,271.67 559.70,271.90 C560.85,272.13 561.62,270.32 562.60,270.90 C563.58,271.48 564.45,274.75 565.60,275.40 C566.75,276.05 568.35,274.57 569.50,274.80 C570.65,275.03 571.33,276.97 572.50,276.80 C573.67,276.63 575.02,273.70 576.50,273.80 C577.98,273.90 579.60,276.23 581.40,277.40 C583.20,278.57 585.00,280.67 587.30,280.80 C589.60,280.93 593.08,278.43 595.20,278.20 C597.32,277.97 598.23,279.32 600.00,279.40 C601.77,279.48 604.05,278.50 605.80,278.70 C607.55,278.90 608.75,279.82 610.50,280.60 C612.25,281.38 614.57,283.40 616.30,283.40 C618.03,283.40 619.55,280.87 620.90,280.60 C622.25,280.33 623.23,281.88 624.40,281.80 C625.57,281.72 626.53,280.10 627.90,280.10 C629.27,280.10 631.25,281.72 632.60,281.80 C633.95,281.88 634.45,280.40 636.00,280.60 C637.55,280.80 640.35,282.80 641.90,283.00 C643.45,283.20 643.75,281.53 645.30,281.80 C646.85,282.07 649.45,284.30 651.20,284.60 C652.95,284.90 653.10,283.68 655.80,283.60 C658.50,283.52 664.68,284.52 667.40,284.10 C670.12,283.68 670.35,281.22 672.10,281.10 C673.85,280.98 676.35,283.10 677.90,283.40 C679.45,283.70 679.85,283.37 681.40,282.90 C682.95,282.43 685.27,280.40 687.20,280.60 C689.13,280.80 690.48,283.52 693.00,284.10 C695.52,284.68 699.78,284.48 702.30,284.10 C704.82,283.72 706.35,281.72 708.10,281.80 C709.85,281.88 710.85,284.33 712.80,284.60 C714.75,284.87 717.48,283.48 719.80,283.40 C722.12,283.32 723.60,284.37 726.70,284.10 C729.80,283.83 735.68,281.80 738.40,281.80 C741.12,281.80 740.48,283.63 743.00,284.10 C745.52,284.57 749.43,284.72 753.50,284.60 C757.57,284.48 764.30,283.40 767.40,283.40 C770.50,283.40 769.00,284.48 772.10,284.60 C775.20,284.72 782.52,284.38 786.00,284.10 C789.48,283.82 791.45,282.90 793.00,282.90 C794.55,282.90 794.97,283.80 795.30,284.10 C795.63,284.40 795.05,284.60 795.00,284.70" fill="none" stroke="#000" stroke-width="1.9" stroke-linejoin="round"/>
<path d="M540.30,315.00 C540.88,313.73 542.55,310.30 543.80,307.40 C545.05,304.50 546.55,299.73 547.80,297.60 C549.05,295.47 549.98,294.60 551.30,294.60 C552.62,294.60 554.15,296.38 555.70,297.60 C557.25,298.82 559.12,300.42 560.60,301.90 C562.08,303.38 563.28,306.63 564.60,306.50 C565.92,306.37 567.18,301.27 568.50,301.10 C569.82,300.93 570.35,304.60 572.50,305.50 C574.65,306.40 578.93,305.68 581.40,306.50 C583.87,307.32 585.32,309.98 587.30,310.40 C589.28,310.82 590.67,308.77 593.30,309.00 C595.93,309.23 600.47,311.47 603.10,311.80 C605.73,312.13 607.12,310.73 609.10,311.00 C611.08,311.27 612.70,313.23 615.00,313.40 C617.30,313.57 619.93,311.83 622.90,312.00 C625.87,312.17 627.20,314.10 632.80,314.40 C638.40,314.70 648.60,313.70 656.50,313.80 C664.40,313.90 673.95,315.13 680.20,315.00 C686.45,314.87 690.70,313.10 694.00,313.00 C697.30,312.90 698.31,314.10 700.00,314.40 C701.69,314.70 702.69,314.70 704.12,314.80 C705.54,314.89 706.81,315.01 708.55,314.99 C710.29,314.98 712.67,314.72 714.56,314.71 C716.46,314.71 718.35,314.91 719.92,314.96 C721.49,315.01 722.45,315.07 723.98,315.02 C725.51,314.97 727.30,314.71 729.10,314.66 C730.89,314.62 732.91,314.65 734.74,314.75 C736.56,314.84 738.06,315.24 740.04,315.23 C742.02,315.22 744.65,314.68 746.59,314.69 C748.54,314.70 749.94,315.25 751.72,315.30 C753.50,315.34 755.28,315.03 757.26,314.96 C759.23,314.89 761.60,314.89 763.57,314.88 C765.55,314.87 767.32,314.82 769.09,314.90 C770.87,314.97 772.67,315.39 774.22,315.34 C775.78,315.29 776.63,314.62 778.41,314.59 C780.19,314.55 782.73,315.07 784.93,315.13 C787.12,315.19 789.91,315.02 791.59,314.94 C793.27,314.86 794.43,314.58 795.00,314.66 C795.57,314.74 795.00,315.28 795.00,315.40 L795.00,315.30 L540.30,315.30 Z" fill="#4A8E8E"/>
<path d="M540.30,315.00 C540.88,313.73 542.55,310.30 543.80,307.40 C545.05,304.50 546.55,299.73 547.80,297.60 C549.05,295.47 549.98,294.60 551.30,294.60 C552.62,294.60 554.15,296.38 555.70,297.60 C557.25,298.82 559.12,300.42 560.60,301.90 C562.08,303.38 563.28,306.63 564.60,306.50 C565.92,306.37 567.18,301.27 568.50,301.10 C569.82,300.93 570.35,304.60 572.50,305.50 C574.65,306.40 578.93,305.68 581.40,306.50 C583.87,307.32 585.32,309.98 587.30,310.40 C589.28,310.82 590.67,308.77 593.30,309.00 C595.93,309.23 600.47,311.47 603.10,311.80 C605.73,312.13 607.12,310.73 609.10,311.00 C611.08,311.27 612.70,313.23 615.00,313.40 C617.30,313.57 619.93,311.83 622.90,312.00 C625.87,312.17 627.20,314.10 632.80,314.40 C638.40,314.70 648.60,313.70 656.50,313.80 C664.40,313.90 673.95,315.13 680.20,315.00 C686.45,314.87 690.70,313.10 694.00,313.00 C697.30,312.90 698.31,314.10 700.00,314.40 C701.69,314.70 702.69,314.70 704.12,314.80 C705.54,314.89 706.81,315.01 708.55,314.99 C710.29,314.98 712.67,314.72 714.56,314.71 C716.46,314.71 718.35,314.91 719.92,314.96 C721.49,315.01 722.45,315.07 723.98,315.02 C725.51,314.97 727.30,314.71 729.10,314.66 C730.89,314.62 732.91,314.65 734.74,314.75 C736.56,314.84 738.06,315.24 740.04,315.23 C742.02,315.22 744.65,314.68 746.59,314.69 C748.54,314.70 749.94,315.25 751.72,315.30 C753.50,315.34 755.28,315.03 757.26,314.96 C759.23,314.89 761.60,314.89 763.57,314.88 C765.55,314.87 767.32,314.82 769.09,314.90 C770.87,314.97 772.67,315.39 774.22,315.34 C775.78,315.29 776.63,314.62 778.41,314.59 C780.19,314.55 782.73,315.07 784.93,315.13 C787.12,315.19 789.91,315.02 791.59,314.94 C793.27,314.86 794.43,314.58 795.00,314.66 C795.57,314.74 795.00,315.28 795.00,315.40" fill="none" stroke="#000" stroke-width="1.9" stroke-linejoin="round"/>
<path d="M540.30,345.00 C540.72,343.35 541.88,338.72 542.80,335.10 C543.72,331.48 544.80,325.93 545.80,323.30 C546.80,320.67 547.82,319.80 548.80,319.30 C549.78,318.80 550.72,318.98 551.70,320.30 C552.68,321.62 553.70,325.88 554.70,327.20 C555.70,328.52 556.38,327.05 557.70,328.20 C559.02,329.35 560.80,332.78 562.60,334.10 C564.40,335.42 566.18,335.77 568.50,336.10 C570.82,336.43 574.35,335.45 576.50,336.10 C578.65,336.75 579.27,339.12 581.40,340.00 C583.53,340.88 586.00,341.17 589.30,341.40 C592.60,341.63 597.25,340.97 601.20,341.40 C605.15,341.83 608.72,343.80 613.00,344.00 C617.28,344.20 622.95,342.37 626.90,342.60 C630.85,342.83 630.12,344.77 636.70,345.40 C643.28,346.03 655.85,346.47 666.40,346.40 C676.95,346.33 693.44,345.18 700.00,345.00 C706.56,344.82 703.79,345.13 705.75,345.30 C707.72,345.46 709.81,345.98 711.79,346.00 C713.78,346.02 715.56,345.45 717.66,345.42 C719.75,345.39 722.31,345.79 724.36,345.80 C726.40,345.81 728.26,345.56 729.94,345.49 C731.62,345.42 732.64,345.28 734.44,345.37 C736.25,345.46 738.77,345.97 740.79,346.04 C742.81,346.11 744.84,345.85 746.56,345.77 C748.28,345.69 749.21,345.60 751.12,345.57 C753.03,345.55 756.15,345.60 758.03,345.62 C759.90,345.63 760.59,345.72 762.37,345.66 C764.14,345.61 766.62,345.21 768.70,345.28 C770.78,345.34 772.67,346.00 774.85,346.05 C777.02,346.09 779.89,345.59 781.75,345.57 C783.61,345.56 784.58,345.98 786.00,345.97 C787.42,345.96 788.80,345.62 790.26,345.52 C791.71,345.43 793.93,345.31 794.72,345.40 C795.51,345.50 794.95,345.98 795.00,346.10 L795.00,346.00 L540.30,346.00 Z" fill="#539FA1"/>
<path d="M540.30,345.00 C540.72,343.35 541.88,338.72 542.80,335.10 C543.72,331.48 544.80,325.93 545.80,323.30 C546.80,320.67 547.82,319.80 548.80,319.30 C549.78,318.80 550.72,318.98 551.70,320.30 C552.68,321.62 553.70,325.88 554.70,327.20 C555.70,328.52 556.38,327.05 557.70,328.20 C559.02,329.35 560.80,332.78 562.60,334.10 C564.40,335.42 566.18,335.77 568.50,336.10 C570.82,336.43 574.35,335.45 576.50,336.10 C578.65,336.75 579.27,339.12 581.40,340.00 C583.53,340.88 586.00,341.17 589.30,341.40 C592.60,341.63 597.25,340.97 601.20,341.40 C605.15,341.83 608.72,343.80 613.00,344.00 C617.28,344.20 622.95,342.37 626.90,342.60 C630.85,342.83 630.12,344.77 636.70,345.40 C643.28,346.03 655.85,346.47 666.40,346.40 C676.95,346.33 693.44,345.18 700.00,345.00 C706.56,344.82 703.79,345.13 705.75,345.30 C707.72,345.46 709.81,345.98 711.79,346.00 C713.78,346.02 715.56,345.45 717.66,345.42 C719.75,345.39 722.31,345.79 724.36,345.80 C726.40,345.81 728.26,345.56 729.94,345.49 C731.62,345.42 732.64,345.28 734.44,345.37 C736.25,345.46 738.77,345.97 740.79,346.04 C742.81,346.11 744.84,345.85 746.56,345.77 C748.28,345.69 749.21,345.60 751.12,345.57 C753.03,345.55 756.15,345.60 758.03,345.62 C759.90,345.63 760.59,345.72 762.37,345.66 C764.14,345.61 766.62,345.21 768.70,345.28 C770.78,345.34 772.67,346.00 774.85,346.05 C777.02,346.09 779.89,345.59 781.75,345.57 C783.61,345.56 784.58,345.98 786.00,345.97 C787.42,345.96 788.80,345.62 790.26,345.52 C791.71,345.43 793.93,345.31 794.72,345.40 C795.51,345.50 794.95,345.98 795.00,346.10" fill="none" stroke="#000" stroke-width="1.9" stroke-linejoin="round"/>
<path d="M540.30,375.60 C540.63,372.97 541.65,364.58 542.30,359.80 C542.95,355.02 543.45,349.80 544.20,346.90 C544.95,344.00 546.03,342.95 546.80,342.40 C547.57,341.85 548.05,343.60 548.80,343.60 C549.55,343.60 550.48,341.18 551.30,342.40 C552.12,343.62 552.63,348.17 553.70,350.90 C554.77,353.63 556.05,356.60 557.70,358.80 C559.35,361.00 561.63,362.45 563.60,364.10 C565.57,365.75 567.52,367.45 569.50,368.70 C571.48,369.95 573.52,371.18 575.50,371.60 C577.48,372.02 578.77,370.93 581.40,371.20 C584.03,371.47 587.68,372.63 591.30,373.20 C594.92,373.77 599.48,374.27 603.10,374.60 C606.72,374.93 610.03,374.93 613.00,375.20 C615.97,375.47 614.97,376.03 620.90,376.20 C626.83,376.37 635.42,376.18 648.60,376.20 C661.78,376.22 690.71,376.28 700.00,376.30 C709.29,376.32 702.72,376.26 704.33,376.33 C705.94,376.41 708.10,376.80 709.66,376.75 C711.21,376.70 711.84,376.03 713.66,376.02 C715.49,376.01 718.40,376.69 720.59,376.68 C722.78,376.66 724.64,376.06 726.80,375.95 C728.95,375.84 731.55,376.00 733.51,376.04 C735.46,376.07 736.77,376.18 738.52,376.18 C740.27,376.17 742.08,376.01 744.02,375.99 C745.95,375.97 748.01,375.99 750.12,376.07 C752.24,376.15 754.58,376.35 756.70,376.46 C758.81,376.56 761.04,376.78 762.83,376.70 C764.63,376.62 765.81,376.08 767.45,375.99 C769.09,375.91 770.84,376.11 772.67,376.20 C774.49,376.30 776.48,376.59 778.39,376.56 C780.31,376.53 782.36,376.03 784.15,376.01 C785.94,376.00 787.54,376.39 789.13,376.49 C790.72,376.59 792.71,376.58 793.69,376.63 C794.67,376.68 794.78,376.77 795.00,376.80 L795.00,376.70 L540.30,376.70 Z" fill="#5AAEB1"/>
<path d="M540.30,375.60 C540.63,372.97 541.65,364.58 542.30,359.80 C542.95,355.02 543.45,349.80 544.20,346.90 C544.95,344.00 546.03,342.95 546.80,342.40 C547.57,341.85 548.05,343.60 548.80,343.60 C549.55,343.60 550.48,341.18 551.30,342.40 C552.12,343.62 552.63,348.17 553.70,350.90 C554.77,353.63 556.05,356.60 557.70,358.80 C559.35,361.00 561.63,362.45 563.60,364.10 C565.57,365.75 567.52,367.45 569.50,368.70 C571.48,369.95 573.52,371.18 575.50,371.60 C577.48,372.02 578.77,370.93 581.40,371.20 C584.03,371.47 587.68,372.63 591.30,373.20 C594.92,373.77 599.48,374.27 603.10,374.60 C606.72,374.93 610.03,374.93 613.00,375.20 C615.97,375.47 614.97,376.03 620.90,376.20 C626.83,376.37 635.42,376.18 648.60,376.20 C661.78,376.22 690.71,376.28 700.00,376.30 C709.29,376.32 702.72,376.26 704.33,376.33 C705.94,376.41 708.10,376.80 709.66,376.75 C711.21,376.70 711.84,376.03 713.66,376.02 C715.49,376.01 718.40,376.69 720.59,376.68 C722.78,376.66 724.64,376.06 726.80,375.95 C728.95,375.84 731.55,376.00 733.51,376.04 C735.46,376.07 736.77,376.18 738.52,376.18 C740.27,376.17 742.08,376.01 744.02,375.99 C745.95,375.97 748.01,375.99 750.12,376.07 C752.24,376.15 754.58,376.35 756.70,376.46 C758.81,376.56 761.04,376.78 762.83,376.70 C764.63,376.62 765.81,376.08 767.45,375.99 C769.09,375.91 770.84,376.11 772.67,376.20 C774.49,376.30 776.48,376.59 778.39,376.56 C780.31,376.53 782.36,376.03 784.15,376.01 C785.94,376.00 787.54,376.39 789.13,376.49 C790.72,376.59 792.71,376.58 793.69,376.63 C794.67,376.68 794.78,376.77 795.00,376.80" fill="none" stroke="#000" stroke-width="1.9" stroke-linejoin="round"/>
<path d="M540.30,406.80 C540.72,404.23 541.88,396.12 542.80,391.40 C543.72,386.68 544.97,381.30 545.80,378.50 C546.63,375.70 546.97,375.75 547.80,374.60 C548.63,373.45 549.82,370.78 550.80,371.60 C551.78,372.42 552.72,376.87 553.70,379.50 C554.68,382.13 555.70,384.77 556.70,387.40 C557.70,390.03 558.48,394.37 559.70,395.30 C560.92,396.23 562.53,392.67 564.00,393.00 C565.47,393.33 566.58,396.25 568.50,397.30 C570.42,398.35 572.70,398.25 575.50,399.30 C578.30,400.35 582.33,402.95 585.30,403.60 C588.27,404.25 590.00,402.93 593.30,403.20 C596.60,403.47 599.18,404.60 605.10,405.20 C611.02,405.80 620.57,406.63 628.80,406.80 C637.03,406.97 642.63,406.17 654.50,406.20 C666.37,406.23 691.34,406.85 700.00,407.00 C708.66,407.15 704.25,407.07 706.48,407.09 C708.71,407.11 711.08,407.05 713.38,407.12 C715.67,407.19 718.35,407.43 720.25,407.49 C722.16,407.56 723.20,407.61 724.82,407.50 C726.44,407.39 728.33,406.88 729.97,406.85 C731.61,406.81 733.17,407.16 734.64,407.30 C736.12,407.43 737.19,407.68 738.83,407.66 C740.46,407.64 742.60,407.29 744.46,407.16 C746.33,407.04 747.98,406.96 750.00,406.91 C752.02,406.86 754.53,406.79 756.58,406.88 C758.63,406.97 760.63,407.43 762.32,407.46 C764.00,407.48 765.23,407.00 766.71,407.04 C768.18,407.07 769.41,407.59 771.17,407.67 C772.93,407.76 775.27,407.60 777.27,407.58 C779.26,407.55 781.28,407.50 783.13,407.51 C784.99,407.53 786.68,407.69 788.41,407.67 C790.14,407.65 792.44,407.40 793.54,407.40 C794.64,407.41 794.76,407.65 795.00,407.70 L795.00,407.60 L540.30,407.60 Z" fill="#63B7BB"/>
<path d="M540.30,406.80 C540.72,404.23 541.88,396.12 542.80,391.40 C543.72,386.68 544.97,381.30 545.80,378.50 C546.63,375.70 546.97,375.75 547.80,374.60 C548.63,373.45 549.82,370.78 550.80,371.60 C551.78,372.42 552.72,376.87 553.70,379.50 C554.68,382.13 555.70,384.77 556.70,387.40 C557.70,390.03 558.48,394.37 559.70,395.30 C560.92,396.23 562.53,392.67 564.00,393.00 C565.47,393.33 566.58,396.25 568.50,397.30 C570.42,398.35 572.70,398.25 575.50,399.30 C578.30,400.35 582.33,402.95 585.30,403.60 C588.27,404.25 590.00,402.93 593.30,403.20 C596.60,403.47 599.18,404.60 605.10,405.20 C611.02,405.80 620.57,406.63 628.80,406.80 C637.03,406.97 642.63,406.17 654.50,406.20 C666.37,406.23 691.34,406.85 700.00,407.00 C708.66,407.15 704.25,407.07 706.48,407.09 C708.71,407.11 711.08,407.05 713.38,407.12 C715.67,407.19 718.35,407.43 720.25,407.49 C722.16,407.56 723.20,407.61 724.82,407.50 C726.44,407.39 728.33,406.88 729.97,406.85 C731.61,406.81 733.17,407.16 734.64,407.30 C736.12,407.43 737.19,407.68 738.83,407.66 C740.46,407.64 742.60,407.29 744.46,407.16 C746.33,407.04 747.98,406.96 750.00,406.91 C752.02,406.86 754.53,406.79 756.58,406.88 C758.63,406.97 760.63,407.43 762.32,407.46 C764.00,407.48 765.23,407.00 766.71,407.04 C768.18,407.07 769.41,407.59 771.17,407.67 C772.93,407.76 775.27,407.60 777.27,407.58 C779.26,407.55 781.28,407.50 783.13,407.51 C784.99,407.53 786.68,407.69 788.41,407.67 C790.14,407.65 792.44,407.40 793.54,407.40 C794.64,407.41 794.76,407.65 795.00,407.70" fill="none" stroke="#000" stroke-width="1.9" stroke-linejoin="round"/>
<path d="M540.30,437.30 C540.57,435.58 541.32,431.68 541.90,427.00 C542.48,422.32 543.15,413.82 543.80,409.20 C544.45,404.58 545.13,401.02 545.80,399.30 C546.47,397.58 547.13,400.88 547.80,398.90 C548.47,396.92 549.22,390.03 549.80,387.40 C550.38,384.77 550.72,382.43 551.30,383.10 C551.88,383.77 552.57,386.40 553.30,391.40 C554.03,396.40 554.80,407.33 555.70,413.10 C556.60,418.87 557.55,423.35 558.70,426.00 C559.85,428.65 561.28,427.68 562.60,429.00 C563.92,430.32 565.12,433.58 566.60,433.90 C568.08,434.22 570.18,431.07 571.50,430.90 C572.82,430.73 573.35,433.07 574.50,432.90 C575.65,432.73 577.25,430.17 578.40,429.90 C579.55,429.63 580.40,430.13 581.40,431.30 C582.40,432.47 583.08,436.03 584.40,436.90 C585.72,437.77 586.83,436.67 589.30,436.50 C591.77,436.33 595.90,435.72 599.20,435.90 C602.50,436.08 592.30,437.32 609.10,437.60 C625.90,437.88 684.05,437.47 700.00,437.60 C715.95,437.73 703.03,438.32 704.78,438.37 C706.54,438.42 708.79,437.89 710.51,437.90 C712.23,437.91 713.54,438.44 715.11,438.44 C716.68,438.44 718.31,437.98 719.91,437.89 C721.52,437.81 723.23,437.94 724.73,437.94 C726.24,437.94 727.51,437.83 728.95,437.89 C730.40,437.95 731.61,438.26 733.38,438.29 C735.15,438.32 737.55,438.09 739.57,438.08 C741.59,438.07 743.50,438.22 745.49,438.24 C747.48,438.26 749.59,438.25 751.50,438.23 C753.40,438.21 754.91,438.17 756.94,438.11 C758.97,438.04 761.61,437.90 763.68,437.85 C765.74,437.79 767.41,437.77 769.32,437.77 C771.23,437.77 773.25,437.83 775.15,437.87 C777.05,437.91 779.01,438.03 780.71,438.00 C782.41,437.97 783.59,437.73 785.35,437.70 C787.11,437.66 789.66,437.66 791.26,437.79 C792.87,437.92 794.38,438.34 795.00,438.46 C795.62,438.58 795.00,438.49 795.00,438.50 L795.00,438.40 L540.30,438.40 Z" fill="#76C5C9"/>
<path d="M540.30,437.30 C540.57,435.58 541.32,431.68 541.90,427.00 C542.48,422.32 543.15,413.82 543.80,409.20 C544.45,404.58 545.13,401.02 545.80,399.30 C546.47,397.58 547.13,400.88 547.80,398.90 C548.47,396.92 549.22,390.03 549.80,387.40 C550.38,384.77 550.72,382.43 551.30,383.10 C551.88,383.77 552.57,386.40 553.30,391.40 C554.03,396.40 554.80,407.33 555.70,413.10 C556.60,418.87 557.55,423.35 558.70,426.00 C559.85,428.65 561.28,427.68 562.60,429.00 C563.92,430.32 565.12,433.58 566.60,433.90 C568.08,434.22 570.18,431.07 571.50,430.90 C572.82,430.73 573.35,433.07 574.50,432.90 C575.65,432.73 577.25,430.17 578.40,429.90 C579.55,429.63 580.40,430.13 581.40,431.30 C582.40,432.47 583.08,436.03 584.40,436.90 C585.72,437.77 586.83,436.67 589.30,436.50 C591.77,436.33 595.90,435.72 599.20,435.90 C602.50,436.08 592.30,437.32 609.10,437.60 C625.90,437.88 684.05,437.47 700.00,437.60 C715.95,437.73 703.03,438.32 704.78,438.37 C706.54,438.42 708.79,437.89 710.51,437.90 C712.23,437.91 713.54,438.44 715.11,438.44 C716.68,438.44 718.31,437.98 719.91,437.89 C721.52,437.81 723.23,437.94 724.73,437.94 C726.24,437.94 727.51,437.83 728.95,437.89 C730.40,437.95 731.61,438.26 733.38,438.29 C735.15,438.32 737.55,438.09 739.57,438.08 C741.59,438.07 743.50,438.22 745.49,438.24 C747.48,438.26 749.59,438.25 751.50,438.23 C753.40,438.21 754.91,438.17 756.94,438.11 C758.97,438.04 761.61,437.90 763.68,437.85 C765.74,437.79 767.41,437.77 769.32,437.77 C771.23,437.77 773.25,437.83 775.15,437.87 C777.05,437.91 779.01,438.03 780.71,438.00 C782.41,437.97 783.59,437.73 785.35,437.70 C787.11,437.66 789.66,437.66 791.26,437.79 C792.87,437.92 794.38,438.34 795.00,438.46 C795.62,438.58 795.00,438.49 795.00,438.50" fill="none" stroke="#000" stroke-width="1.9" stroke-linejoin="round"/>
<line x1="535.00" y1="258.50" x2="535.00" y2="447.10" stroke="#777" stroke-width="1.9"/>
<line x1="535.00" y1="446.50" x2="824.00" y2="446.50" stroke="#222" stroke-width="1.5"/>
<text x="49.50" y="265.00" font-size="19.3" text-anchor="start" fill="#000" style="stroke-width:0.55px">C</text>
<text x="97.80" y="308.10" font-size="14" text-anchor="end" fill="#000">67 y</text>
<text x="97.80" y="335.50" font-size="14" text-anchor="end" fill="#000">59 y</text>
<text x="97.80" y="362.70" font-size="14" text-anchor="end" fill="#000">42 y</text>
<text x="97.80" y="389.90" font-size="14" text-anchor="end" fill="#000">36 y</text>
<text x="97.80" y="416.50" font-size="14" text-anchor="end" fill="#000">23 y</text>
<text x="97.80" y="443.90" font-size="14" text-anchor="end" fill="#000">13 y</text>
<text x="116.50" y="460.00" font-size="13.5" text-anchor="middle" fill="#000">0</text>
<text x="170.20" y="460.00" font-size="13.5" text-anchor="middle" fill="#000">25</text>
<text x="223.90" y="460.00" font-size="13.5" text-anchor="middle" fill="#000">50</text>
<text x="277.60" y="460.00" font-size="13.5" text-anchor="middle" fill="#000">75</text>
<text x="331.30" y="460.00" font-size="13.5" text-anchor="middle" fill="#000">100</text>
<text x="385.00" y="460.00" font-size="13.5" text-anchor="middle" fill="#000">125</text>
<text x="247.50" y="475.00" font-size="13.5" text-anchor="middle" fill="#000" textLength="160" lengthAdjust="spacingAndGlyphs">Patch size of lichens (mm)</text>
<text x="35.70" y="354.50" font-size="13.5" text-anchor="middle" fill="#000" transform="rotate(-90 35.7 354.5)" textLength="128" lengthAdjust="spacingAndGlyphs">Density of Patch-size</text>
<text x="52.80" y="353.30" font-size="13.5" text-anchor="middle" fill="#000" transform="rotate(-90 52.8 353.3)" textLength="67" lengthAdjust="spacingAndGlyphs">Distribution</text>
<text x="454.80" y="267.50" font-size="19.3" text-anchor="start" fill="#000" style="stroke-width:0.55px">D</text>
<text x="529.10" y="287.00" font-size="14" text-anchor="end" fill="#000">67 y</text>
<text x="529.10" y="317.70" font-size="14" text-anchor="end" fill="#000">59 y</text>
<text x="529.10" y="348.40" font-size="14" text-anchor="end" fill="#000">42 y</text>
<text x="529.10" y="379.10" font-size="14" text-anchor="end" fill="#000">36 y</text>
<text x="529.10" y="410.00" font-size="14" text-anchor="end" fill="#000">23 y</text>
<text x="529.10" y="440.80" font-size="14" text-anchor="end" fill="#000">13 y</text>
<text x="541.00" y="460.00" font-size="13.5" text-anchor="middle" fill="#000">0</text>
<text x="606.00" y="460.00" font-size="13.5" text-anchor="middle" fill="#000">50</text>
<text x="671.40" y="460.00" font-size="13.5" text-anchor="middle" fill="#000">100</text>
<text x="734.90" y="460.00" font-size="13.5" text-anchor="middle" fill="#000">150</text>
<text x="797.90" y="460.00" font-size="13.5" text-anchor="middle" fill="#000">200</text>
<text x="673.30" y="475.00" font-size="13.5" text-anchor="middle" fill="#000" textLength="161" lengthAdjust="spacingAndGlyphs">Patch size of mosses(mm)</text>
<text x="473.20" y="355.40" font-size="13.5" text-anchor="middle" fill="#000" transform="rotate(-90 473.2 355.4)" textLength="127" lengthAdjust="spacingAndGlyphs">Density of Patch-size</text>
<text x="489.00" y="355.10" font-size="13.5" text-anchor="middle" fill="#000" transform="rotate(-90 489 355.1)" textLength="68" lengthAdjust="spacingAndGlyphs">Distribution</text>
<line x1="80.30" y1="512.60" x2="161.30" y2="512.60" stroke="#9A9A9A" stroke-width="1.0" stroke-dasharray="2.2,3.2"/>
<line x1="80.30" y1="533.70" x2="161.30" y2="533.70" stroke="#9A9A9A" stroke-width="1.0" stroke-dasharray="2.2,3.2"/>
<line x1="80.30" y1="555.00" x2="161.30" y2="555.00" stroke="#9A9A9A" stroke-width="1.0" stroke-dasharray="2.2,3.2"/>
<line x1="78.30" y1="507.30" x2="78.30" y2="574.90" stroke="#111" stroke-width="1.7"/>
<line x1="77.50" y1="574.10" x2="161.90" y2="574.10" stroke="#111" stroke-width="1.7"/>
<line x1="75.10" y1="512.60" x2="78.30" y2="512.60" stroke="#333" stroke-width="1"/>
<text x="73.80" y="520.00" font-size="13" text-anchor="end" fill="#000" textLength="24.8" lengthAdjust="spacingAndGlyphs">1.00</text>
<line x1="75.10" y1="533.70" x2="78.30" y2="533.70" stroke="#333" stroke-width="1"/>
<text x="73.80" y="538.90" font-size="13" text-anchor="end" fill="#000" textLength="24.8" lengthAdjust="spacingAndGlyphs">0.10</text>
<line x1="75.10" y1="555.00" x2="78.30" y2="555.00" stroke="#333" stroke-width="1"/>
<text x="73.80" y="557.80" font-size="13" text-anchor="end" fill="#000" textLength="24.8" lengthAdjust="spacingAndGlyphs">0.01</text>
<line x1="81.50" y1="574.10" x2="81.50" y2="577.30" stroke="#555" stroke-width="0.9"/>
<line x1="111.40" y1="574.10" x2="111.40" y2="577.30" stroke="#555" stroke-width="0.9"/>
<line x1="140.40" y1="574.10" x2="140.40" y2="577.30" stroke="#555" stroke-width="0.9"/>
<text x="81.00" y="591.90" font-size="13.4" text-anchor="middle" fill="#000">1</text>
<text x="115.00" y="591.90" font-size="13.4" text-anchor="middle" fill="#000">10</text>
<text x="149.00" y="591.90" font-size="13.4" text-anchor="middle" fill="#000">100</text>
<text x="121.00" y="504.70" font-size="13.4" text-anchor="middle" fill="#000">13 y</text>
<text x="83.10" y="566.40" font-size="13" text-anchor="start" fill="#000" textLength="51.8" lengthAdjust="spacingAndGlyphs">α =&#160; 3.21</text>
<circle cx="81.5" cy="512.6" r="1.9" fill="none" stroke="#111" stroke-width="1.1"/>
<circle cx="90.1" cy="512.7" r="1.9" fill="none" stroke="#111" stroke-width="1.1"/>
<circle cx="95.5" cy="513.2" r="1.9" fill="none" stroke="#111" stroke-width="1.1"/>
<circle cx="99" cy="513.6" r="1.9" fill="none" stroke="#111" stroke-width="1.1"/>
<path d="M102.00,514.00 C103.43,514.45 107.90,515.70 110.60,516.70 C113.30,517.70 116.22,518.92 118.20,520.00 C120.18,521.08 121.07,521.87 122.50,523.20 C123.93,524.53 125.37,525.93 126.80,528.00 C128.23,530.07 129.67,532.90 131.10,535.60 C132.53,538.30 133.97,541.68 135.40,544.20 C136.83,546.72 138.98,549.62 139.70,550.70" fill="none" stroke="#000" stroke-width="3.8" stroke-linecap="round" stroke-linejoin="round"/>
<path d="M118.20,520.00 C118.92,520.53 121.07,521.87 122.50,523.20 C123.93,524.53 125.37,525.93 126.80,528.00 C128.23,530.07 129.67,532.90 131.10,535.60 C132.53,538.30 134.68,542.77 135.40,544.20" fill="none" stroke="#000" stroke-width="5.0" stroke-linecap="round" stroke-linejoin="round"/>
<circle cx="141.4" cy="556" r="1.9" fill="none" stroke="#555" stroke-width="0.9"/>
<circle cx="144" cy="561.5" r="1.9" fill="none" stroke="#555" stroke-width="0.9"/>
<circle cx="149.5" cy="565.3" r="1.9" fill="none" stroke="#555" stroke-width="0.9"/>
<circle cx="148.9" cy="571.8" r="1.9" fill="none" stroke="#555" stroke-width="0.9"/>
<path d="M123.00,523.20 C127.42,530.57 145.08,560.03 149.50,567.40" fill="none" stroke="#CF7450" stroke-width="2.4" stroke-linecap="butt"/>
<line x1="220.10" y1="512.60" x2="302.00" y2="512.60" stroke="#9A9A9A" stroke-width="1.0" stroke-dasharray="2.2,3.2"/>
<line x1="220.10" y1="532.30" x2="302.00" y2="532.30" stroke="#9A9A9A" stroke-width="1.0" stroke-dasharray="2.2,3.2"/>
<line x1="220.10" y1="552.60" x2="302.00" y2="552.60" stroke="#9A9A9A" stroke-width="1.0" stroke-dasharray="2.2,3.2"/>
<line x1="220.10" y1="572.60" x2="302.00" y2="572.60" stroke="#9A9A9A" stroke-width="1.0" stroke-dasharray="2.2,3.2"/>
<line x1="218.10" y1="507.90" x2="218.10" y2="574.90" stroke="#111" stroke-width="1.7"/>
<line x1="217.30" y1="574.10" x2="302.00" y2="574.10" stroke="#111" stroke-width="1.7"/>
<line x1="214.90" y1="512.40" x2="218.10" y2="512.40" stroke="#333" stroke-width="1"/>
<text x="208.80" y="516.00" font-size="9.9" text-anchor="end" fill="#000" textLength="26.2" lengthAdjust="spacingAndGlyphs">1.000</text>
<line x1="214.90" y1="532.20" x2="218.10" y2="532.20" stroke="#333" stroke-width="1"/>
<text x="208.80" y="535.80" font-size="9.9" text-anchor="end" fill="#000" textLength="26.2" lengthAdjust="spacingAndGlyphs">0.100</text>
<line x1="214.90" y1="552.00" x2="218.10" y2="552.00" stroke="#333" stroke-width="1"/>
<text x="208.80" y="556.00" font-size="9.9" text-anchor="end" fill="#000" textLength="26.2" lengthAdjust="spacingAndGlyphs">0.010</text>
<line x1="214.90" y1="572.30" x2="218.10" y2="572.30" stroke="#333" stroke-width="1"/>
<text x="208.80" y="576.60" font-size="9.9" text-anchor="end" fill="#000" textLength="26.2" lengthAdjust="spacingAndGlyphs">0.001</text>
<line x1="221.50" y1="574.10" x2="221.50" y2="577.30" stroke="#555" stroke-width="0.9"/>
<line x1="249.00" y1="574.10" x2="249.00" y2="577.30" stroke="#555" stroke-width="0.9"/>
<line x1="276.50" y1="574.10" x2="276.50" y2="577.30" stroke="#555" stroke-width="0.9"/>
<text x="221.80" y="591.90" font-size="13.4" text-anchor="middle" fill="#000">1</text>
<text x="250.30" y="591.90" font-size="13.4" text-anchor="middle" fill="#000">10</text>
<text x="279.90" y="591.90" font-size="13.4" text-anchor="middle" fill="#000">100</text>
<text x="261.80" y="504.70" font-size="13.4" text-anchor="middle" fill="#000">23 y</text>
<text x="223.10" y="565.80" font-size="13" text-anchor="start" fill="#000" textLength="51.3" lengthAdjust="spacingAndGlyphs">α =&#160; 3.11</text>
<circle cx="221.7" cy="512.7" r="1.9" fill="none" stroke="#111" stroke-width="1.1"/>
<circle cx="229.6" cy="512.7" r="1.9" fill="none" stroke="#111" stroke-width="1.1"/>
<circle cx="235" cy="513.2" r="1.9" fill="none" stroke="#111" stroke-width="1.1"/>
<circle cx="239.3" cy="513.5" r="1.9" fill="none" stroke="#111" stroke-width="1.1"/>
<path d="M242.00,514.00 C243.43,514.55 247.90,516.03 250.60,517.30 C253.30,518.57 256.22,520.35 258.20,521.60 C260.18,522.85 261.07,523.18 262.50,524.80 C263.93,526.42 265.18,528.60 266.80,531.30 C268.42,534.00 270.40,537.77 272.20,541.00 C274.00,544.23 276.70,549.08 277.60,550.70" fill="none" stroke="#000" stroke-width="3.8" stroke-linecap="round" stroke-linejoin="round"/>
<path d="M258.20,521.60 C258.92,522.13 261.07,523.18 262.50,524.80 C263.93,526.42 265.18,528.60 266.80,531.30 C268.42,534.00 271.30,539.38 272.20,541.00" fill="none" stroke="#000" stroke-width="5.0" stroke-linecap="round" stroke-linejoin="round"/>
<circle cx="279.7" cy="557.2" r="1.9" fill="none" stroke="#555" stroke-width="0.9"/>
<circle cx="281.9" cy="562.6" r="1.9" fill="none" stroke="#555" stroke-width="0.9"/>
<circle cx="284.6" cy="566.4" r="1.9" fill="none" stroke="#555" stroke-width="0.9"/>
<circle cx="289.2" cy="571.8" r="1.9" fill="none" stroke="#555" stroke-width="0.9"/>
<path d="M262.50,524.60 C267.00,531.92 285.00,561.18 289.50,568.50" fill="none" stroke="#CF7450" stroke-width="2.4" stroke-linecap="butt"/>
<line x1="354.40" y1="511.10" x2="435.20" y2="511.10" stroke="#9A9A9A" stroke-width="1.0" stroke-dasharray="2.2,3.2"/>
<line x1="354.40" y1="529.50" x2="435.20" y2="529.50" stroke="#9A9A9A" stroke-width="1.0" stroke-dasharray="2.2,3.2"/>
<line x1="354.40" y1="548.20" x2="435.20" y2="548.20" stroke="#9A9A9A" stroke-width="1.0" stroke-dasharray="2.2,3.2"/>
<line x1="354.40" y1="566.40" x2="435.20" y2="566.40" stroke="#9A9A9A" stroke-width="1.0" stroke-dasharray="2.2,3.2"/>
<line x1="352.40" y1="506.70" x2="352.40" y2="574.40" stroke="#111" stroke-width="1.7"/>
<line x1="351.60" y1="573.60" x2="435.80" y2="573.60" stroke="#111" stroke-width="1.7"/>
<line x1="349.20" y1="511.10" x2="352.40" y2="511.10" stroke="#333" stroke-width="1"/>
<text x="342.20" y="515.70" font-size="9.9" text-anchor="end" fill="#000" textLength="26.2" lengthAdjust="spacingAndGlyphs">1.000</text>
<line x1="349.20" y1="529.50" x2="352.40" y2="529.50" stroke="#333" stroke-width="1"/>
<text x="342.20" y="533.50" font-size="9.9" text-anchor="end" fill="#000" textLength="26.2" lengthAdjust="spacingAndGlyphs">0.100</text>
<line x1="349.20" y1="548.20" x2="352.40" y2="548.20" stroke="#333" stroke-width="1"/>
<text x="342.20" y="551.80" font-size="9.9" text-anchor="end" fill="#000" textLength="26.2" lengthAdjust="spacingAndGlyphs">0.010</text>
<line x1="349.20" y1="566.40" x2="352.40" y2="566.40" stroke="#333" stroke-width="1"/>
<text x="342.20" y="569.70" font-size="9.9" text-anchor="end" fill="#000" textLength="26.2" lengthAdjust="spacingAndGlyphs">0.001</text>
<line x1="353.80" y1="573.60" x2="353.80" y2="576.80" stroke="#555" stroke-width="0.9"/>
<line x1="379.40" y1="573.60" x2="379.40" y2="576.80" stroke="#555" stroke-width="0.9"/>
<line x1="405.60" y1="573.60" x2="405.60" y2="576.80" stroke="#555" stroke-width="0.9"/>
<text x="353.30" y="592.00" font-size="13.4" text-anchor="middle" fill="#000">1</text>
<text x="380.70" y="592.00" font-size="13.4" text-anchor="middle" fill="#000">10</text>
<text x="411.50" y="592.00" font-size="13.4" text-anchor="middle" fill="#000">100</text>
<text x="395.60" y="504.70" font-size="13.4" text-anchor="middle" fill="#000">36 y</text>
<circle cx="354.1" cy="511.3" r="1.9" fill="none" stroke="#111" stroke-width="1.1"/>
<circle cx="362.4" cy="511.7" r="1.9" fill="none" stroke="#111" stroke-width="1.1"/>
<circle cx="367.8" cy="512.4" r="1.9" fill="none" stroke="#111" stroke-width="1.1"/>
<circle cx="371.6" cy="513" r="1.9" fill="none" stroke="#111" stroke-width="1.1"/>
<path d="M374.80,514.00 C376.07,514.55 379.70,515.95 382.40,517.30 C385.10,518.65 388.48,520.32 391.00,522.10 C393.52,523.88 395.33,525.75 397.50,528.00 C399.67,530.25 402.12,533.25 404.00,535.60 C405.88,537.95 407.47,539.77 408.80,542.10 C410.13,544.43 411.47,548.35 412.00,549.60" fill="none" stroke="#000" stroke-width="3.8" stroke-linecap="round" stroke-linejoin="round"/>
<path d="M391.00,522.10 C392.08,523.08 395.33,525.75 397.50,528.00 C399.67,530.25 402.12,533.25 404.00,535.60 C405.88,537.95 408.00,541.02 408.80,542.10" fill="none" stroke="#000" stroke-width="5.0" stroke-linecap="round" stroke-linejoin="round"/>
<circle cx="412" cy="553.4" r="1.9" fill="none" stroke="#555" stroke-width="0.9"/>
<circle cx="416.9" cy="554" r="1.9" fill="none" stroke="#555" stroke-width="0.9"/>
<circle cx="417.4" cy="557.2" r="1.9" fill="none" stroke="#555" stroke-width="0.9"/>
<circle cx="420.1" cy="559.4" r="1.9" fill="none" stroke="#555" stroke-width="0.9"/>
<circle cx="422.1" cy="562.6" r="1.9" fill="none" stroke="#555" stroke-width="0.9"/>
<circle cx="423.2" cy="568.5" r="1.9" fill="none" stroke="#555" stroke-width="0.9"/>
<path d="M393.20,524.30 C394.83,525.92 400.03,530.55 403.00,534.00 C405.97,537.45 408.67,541.33 411.00,545.00 C413.33,548.67 414.93,551.82 417.00,556.00 C419.07,560.18 422.33,567.75 423.40,570.10" fill="none" stroke="#6E86C8" stroke-width="2.9" stroke-linecap="butt"/>
<line x1="488.00" y1="511.10" x2="569.90" y2="511.10" stroke="#9A9A9A" stroke-width="1.0" stroke-dasharray="2.2,3.2"/>
<line x1="488.00" y1="530.50" x2="569.90" y2="530.50" stroke="#9A9A9A" stroke-width="1.0" stroke-dasharray="2.2,3.2"/>
<line x1="488.00" y1="550.20" x2="569.90" y2="550.20" stroke="#9A9A9A" stroke-width="1.0" stroke-dasharray="2.2,3.2"/>
<line x1="488.00" y1="569.60" x2="569.90" y2="569.60" stroke="#9A9A9A" stroke-width="1.0" stroke-dasharray="2.2,3.2"/>
<line x1="486.00" y1="505.20" x2="486.00" y2="573.60" stroke="#111" stroke-width="1.7"/>
<line x1="485.20" y1="572.80" x2="569.90" y2="572.80" stroke="#111" stroke-width="1.7"/>
<line x1="482.80" y1="511.10" x2="486.00" y2="511.10" stroke="#333" stroke-width="1"/>
<text x="480.30" y="515.70" font-size="9.9" text-anchor="end" fill="#000" textLength="26.2" lengthAdjust="spacingAndGlyphs">1.000</text>
<line x1="482.80" y1="530.50" x2="486.00" y2="530.50" stroke="#333" stroke-width="1"/>
<text x="480.30" y="534.80" font-size="9.9" text-anchor="end" fill="#000" textLength="26.2" lengthAdjust="spacingAndGlyphs">0.100</text>
<line x1="482.80" y1="550.20" x2="486.00" y2="550.20" stroke="#333" stroke-width="1"/>
<text x="480.30" y="553.50" font-size="9.9" text-anchor="end" fill="#000" textLength="26.2" lengthAdjust="spacingAndGlyphs">0.010</text>
<line x1="482.80" y1="569.60" x2="486.00" y2="569.60" stroke="#333" stroke-width="1"/>
<text x="480.30" y="570.70" font-size="9.9" text-anchor="end" fill="#000" textLength="26.2" lengthAdjust="spacingAndGlyphs">0.001</text>
<line x1="490.30" y1="572.80" x2="490.30" y2="576.00" stroke="#555" stroke-width="0.9"/>
<line x1="523.50" y1="572.80" x2="523.50" y2="576.00" stroke="#555" stroke-width="0.9"/>
<line x1="556.40" y1="572.80" x2="556.40" y2="576.00" stroke="#555" stroke-width="0.9"/>
<text x="491.70" y="592.00" font-size="13.4" text-anchor="middle" fill="#000">1</text>
<text x="521.40" y="592.00" font-size="13.4" text-anchor="middle" fill="#000">10</text>
<text x="552.40" y="592.00" font-size="13.4" text-anchor="middle" fill="#000">100</text>
<text x="529.10" y="504.70" font-size="13.4" text-anchor="middle" fill="#000">42 y</text>
<circle cx="490" cy="511.3" r="1.9" fill="none" stroke="#111" stroke-width="1.1"/>
<circle cx="499.7" cy="511.9" r="1.9" fill="none" stroke="#111" stroke-width="1.1"/>
<circle cx="505.7" cy="512.4" r="1.9" fill="none" stroke="#111" stroke-width="1.1"/>
<circle cx="509.4" cy="512.7" r="1.9" fill="none" stroke="#111" stroke-width="1.1"/>
<circle cx="513.2" cy="513.5" r="1.9" fill="none" stroke="#111" stroke-width="1.1"/>
<path d="M517.50,515.10 C518.95,515.92 523.32,518.12 526.20,520.00 C529.08,521.88 532.47,524.33 534.80,526.40 C537.13,528.47 538.05,529.60 540.20,532.40 C542.35,535.20 545.55,540.15 547.70,543.20 C549.85,546.25 552.20,549.45 553.10,550.70" fill="none" stroke="#000" stroke-width="3.8" stroke-linecap="round" stroke-linejoin="round"/>
<path d="M534.80,526.40 C535.70,527.40 538.05,529.60 540.20,532.40 C542.35,535.20 546.45,541.40 547.70,543.20" fill="none" stroke="#000" stroke-width="5.0" stroke-linecap="round" stroke-linejoin="round"/>
<circle cx="555.3" cy="557.2" r="1.9" fill="none" stroke="#555" stroke-width="0.9"/>
<circle cx="556.9" cy="564.7" r="1.9" fill="none" stroke="#555" stroke-width="0.9"/>
<circle cx="557.5" cy="570.1" r="1.9" fill="none" stroke="#555" stroke-width="0.9"/>
<path d="M535.90,527.50 C537.42,529.42 542.32,535.25 545.00,539.00 C547.68,542.75 550.02,545.72 552.00,550.00 C553.98,554.28 556.08,562.25 556.90,564.70" fill="none" stroke="#6E86C8" stroke-width="2.9" stroke-linecap="butt"/>
<line x1="623.80" y1="510.60" x2="704.30" y2="510.60" stroke="#9A9A9A" stroke-width="1.0" stroke-dasharray="2.2,3.2"/>
<line x1="623.80" y1="532.40" x2="704.30" y2="532.40" stroke="#9A9A9A" stroke-width="1.0" stroke-dasharray="2.2,3.2"/>
<line x1="623.80" y1="550.90" x2="704.30" y2="550.90" stroke="#9A9A9A" stroke-width="1.0" stroke-dasharray="2.2,3.2"/>
<line x1="623.80" y1="570.70" x2="704.30" y2="570.70" stroke="#9A9A9A" stroke-width="1.0" stroke-dasharray="2.2,3.2"/>
<line x1="621.80" y1="505.20" x2="621.80" y2="573.60" stroke="#111" stroke-width="1.7"/>
<line x1="621.00" y1="572.80" x2="706.00" y2="572.80" stroke="#111" stroke-width="1.7"/>
<line x1="618.60" y1="510.60" x2="621.80" y2="510.60" stroke="#333" stroke-width="1"/>
<text x="613.30" y="515.70" font-size="9.9" text-anchor="end" fill="#000" textLength="26.2" lengthAdjust="spacingAndGlyphs">1.000</text>
<line x1="618.60" y1="532.40" x2="621.80" y2="532.40" stroke="#333" stroke-width="1"/>
<text x="613.30" y="534.80" font-size="9.9" text-anchor="end" fill="#000" textLength="26.2" lengthAdjust="spacingAndGlyphs">0.100</text>
<line x1="618.60" y1="550.90" x2="621.80" y2="550.90" stroke="#333" stroke-width="1"/>
<text x="613.30" y="552.90" font-size="9.9" text-anchor="end" fill="#000" textLength="26.2" lengthAdjust="spacingAndGlyphs">0.010</text>
<line x1="618.60" y1="570.70" x2="621.80" y2="570.70" stroke="#333" stroke-width="1"/>
<text x="613.30" y="570.70" font-size="9.9" text-anchor="end" fill="#000" textLength="26.2" lengthAdjust="spacingAndGlyphs">0.001</text>
<line x1="631.40" y1="572.80" x2="631.40" y2="576.00" stroke="#555" stroke-width="0.9"/>
<line x1="651.50" y1="572.80" x2="651.50" y2="576.00" stroke="#555" stroke-width="0.9"/>
<line x1="669.30" y1="572.80" x2="669.30" y2="576.00" stroke="#555" stroke-width="0.9"/>
<line x1="689.20" y1="572.80" x2="689.20" y2="576.00" stroke="#555" stroke-width="0.9"/>
<text x="632.10" y="591.90" font-size="13.4" text-anchor="middle" fill="#000">3</text>
<text x="648.30" y="591.90" font-size="13.4" text-anchor="middle" fill="#000">10</text>
<text x="667.70" y="591.90" font-size="13.4" text-anchor="middle" fill="#000">30</text>
<text x="691.50" y="591.90" font-size="13.4" text-anchor="middle" fill="#000">100</text>
<text x="664.20" y="504.70" font-size="13.4" text-anchor="middle" fill="#000">59 y</text>
<text x="627.70" y="563.10" font-size="13" text-anchor="start" fill="#000" textLength="52.9" lengthAdjust="spacingAndGlyphs">α =&#160; 3.43</text>
<circle cx="625" cy="511.7" r="1.9" fill="none" stroke="#111" stroke-width="1.1"/>
<circle cx="631.5" cy="512.1" r="1.9" fill="none" stroke="#111" stroke-width="1.1"/>
<circle cx="636.3" cy="512.7" r="1.9" fill="none" stroke="#111" stroke-width="1.1"/>
<circle cx="640.7" cy="513.5" r="1.9" fill="none" stroke="#111" stroke-width="1.1"/>
<circle cx="644.4" cy="515.1" r="1.9" fill="none" stroke="#111" stroke-width="1.1"/>
<path d="M649.30,516.70 C650.55,517.42 654.47,519.28 656.80,521.00 C659.13,522.72 661.32,524.92 663.30,527.00 C665.28,529.08 667.08,531.33 668.70,533.50 C670.32,535.67 671.38,538.38 673.00,540.00 C674.62,541.62 676.95,541.60 678.40,543.20 C679.85,544.80 681.15,548.53 681.70,549.60" fill="none" stroke="#000" stroke-width="3.8" stroke-linecap="round" stroke-linejoin="round"/>
<path d="M663.30,527.00 C664.20,528.08 667.08,531.33 668.70,533.50 C670.32,535.67 671.38,538.38 673.00,540.00 C674.62,541.62 677.50,542.67 678.40,543.20" fill="none" stroke="#000" stroke-width="5.0" stroke-linecap="round" stroke-linejoin="round"/>
<circle cx="686" cy="552.9" r="1.9" fill="none" stroke="#555" stroke-width="0.9"/>
<circle cx="687.6" cy="555.6" r="1.9" fill="none" stroke="#555" stroke-width="0.9"/>
<circle cx="692.5" cy="560.4" r="1.9" fill="none" stroke="#555" stroke-width="0.9"/>
<circle cx="693" cy="564.7" r="1.9" fill="none" stroke="#555" stroke-width="0.9"/>
<circle cx="693.5" cy="570.7" r="1.9" fill="none" stroke="#555" stroke-width="0.9"/>
<path d="M666.60,530.20 C671.08,536.13 689.02,559.87 693.50,565.80" fill="none" stroke="#CF7450" stroke-width="2.4" stroke-linecap="butt"/>
<line x1="750.00" y1="511.10" x2="822.70" y2="511.10" stroke="#9A9A9A" stroke-width="1.0" stroke-dasharray="2.2,3.2"/>
<line x1="750.00" y1="532.90" x2="822.70" y2="532.90" stroke="#9A9A9A" stroke-width="1.0" stroke-dasharray="2.2,3.2"/>
<line x1="748.00" y1="505.90" x2="748.00" y2="573.60" stroke="#111" stroke-width="1.7"/>
<line x1="747.20" y1="572.80" x2="831.30" y2="572.80" stroke="#111" stroke-width="1.7"/>
<line x1="744.80" y1="511.30" x2="748.00" y2="511.30" stroke="#333" stroke-width="1"/>
<text x="739.80" y="518.90" font-size="12.2" text-anchor="end" fill="#000" textLength="23" lengthAdjust="spacingAndGlyphs">1.00</text>
<line x1="744.80" y1="533.20" x2="748.00" y2="533.20" stroke="#333" stroke-width="1"/>
<text x="739.80" y="540.00" font-size="12.2" text-anchor="end" fill="#000" textLength="23" lengthAdjust="spacingAndGlyphs">0.10</text>
<line x1="744.80" y1="555.30" x2="748.00" y2="555.30" stroke="#333" stroke-width="1"/>
<text x="739.80" y="559.40" font-size="12.2" text-anchor="end" fill="#000" textLength="23" lengthAdjust="spacingAndGlyphs">0.01</text>
<line x1="758.50" y1="572.80" x2="758.50" y2="576.00" stroke="#555" stroke-width="0.9"/>
<line x1="779.00" y1="572.80" x2="779.00" y2="576.00" stroke="#555" stroke-width="0.9"/>
<line x1="797.60" y1="572.80" x2="797.60" y2="576.00" stroke="#555" stroke-width="0.9"/>
<line x1="818.20" y1="572.80" x2="818.20" y2="576.00" stroke="#555" stroke-width="0.9"/>
<text x="760.50" y="591.90" font-size="13.4" text-anchor="middle" fill="#000">3</text>
<text x="778.60" y="591.90" font-size="13.4" text-anchor="middle" fill="#000">10</text>
<text x="796.60" y="591.90" font-size="13.4" text-anchor="middle" fill="#000">30</text>
<text x="821.70" y="591.90" font-size="13.4" text-anchor="middle" fill="#000">100</text>
<text x="791.20" y="504.70" font-size="13.4" text-anchor="middle" fill="#000">67 y</text>
<text x="754.70" y="564.70" font-size="13" text-anchor="start" fill="#000" textLength="52.9" lengthAdjust="spacingAndGlyphs">α =&#160; 3.29</text>
<circle cx="752" cy="511.3" r="1.9" fill="none" stroke="#111" stroke-width="1.1"/>
<circle cx="758.5" cy="511.9" r="1.9" fill="none" stroke="#111" stroke-width="1.1"/>
<circle cx="763.3" cy="512.7" r="1.9" fill="none" stroke="#111" stroke-width="1.1"/>
<circle cx="767.1" cy="513.5" r="1.9" fill="none" stroke="#111" stroke-width="1.1"/>
<circle cx="770.9" cy="514.9" r="1.9" fill="none" stroke="#111" stroke-width="1.1"/>
<path d="M775.20,516.70 C776.47,517.42 780.28,519.47 782.80,521.00 C785.32,522.53 788.15,524.37 790.30,525.90 C792.45,527.43 793.90,528.40 795.70,530.20 C797.50,532.00 799.38,534.37 801.10,536.70 C802.82,539.03 804.38,542.22 806.00,544.20 C807.62,546.18 810.00,547.87 810.80,548.60" fill="none" stroke="#000" stroke-width="3.8" stroke-linecap="round" stroke-linejoin="round"/>
<path d="M790.30,525.90 C791.20,526.62 793.90,528.40 795.70,530.20 C797.50,532.00 799.38,534.37 801.10,536.70 C802.82,539.03 805.18,542.95 806.00,544.20" fill="none" stroke="#000" stroke-width="5.0" stroke-linecap="round" stroke-linejoin="round"/>
<circle cx="814" cy="560.4" r="1.9" fill="none" stroke="#555" stroke-width="0.9"/>
<circle cx="817.3" cy="564.2" r="1.9" fill="none" stroke="#555" stroke-width="0.9"/>
<circle cx="818.9" cy="570.7" r="1.9" fill="none" stroke="#555" stroke-width="0.9"/>
<path d="M794.10,529.10 C796.08,531.42 801.77,537.52 806.00,543.00 C810.23,548.48 817.25,558.83 819.50,562.00" fill="none" stroke="#CF7450" stroke-width="2.4" stroke-linecap="butt"/>
<line x1="81.50" y1="633.50" x2="163.00" y2="633.50" stroke="#9A9A9A" stroke-width="1.0" stroke-dasharray="2.2,3.2"/>
<line x1="81.50" y1="655.10" x2="163.00" y2="655.10" stroke="#9A9A9A" stroke-width="1.0" stroke-dasharray="2.2,3.2"/>
<line x1="81.50" y1="676.70" x2="163.00" y2="676.70" stroke="#9A9A9A" stroke-width="1.0" stroke-dasharray="2.2,3.2"/>
<line x1="79.50" y1="628.40" x2="79.50" y2="695.40" stroke="#111" stroke-width="1.7"/>
<line x1="78.70" y1="694.60" x2="163.00" y2="694.60" stroke="#111" stroke-width="1.7"/>
<line x1="76.30" y1="633.90" x2="79.50" y2="633.90" stroke="#333" stroke-width="1"/>
<text x="74.60" y="641.90" font-size="13" text-anchor="end" fill="#000" textLength="24.8" lengthAdjust="spacingAndGlyphs">1.00</text>
<line x1="76.30" y1="655.60" x2="79.50" y2="655.60" stroke="#333" stroke-width="1"/>
<text x="74.60" y="660.50" font-size="13" text-anchor="end" fill="#000" textLength="24.8" lengthAdjust="spacingAndGlyphs">0.10</text>
<line x1="76.30" y1="677.00" x2="79.50" y2="677.00" stroke="#333" stroke-width="1"/>
<text x="74.60" y="680.90" font-size="13" text-anchor="end" fill="#000" textLength="24.8" lengthAdjust="spacingAndGlyphs">0.01</text>
<line x1="86.30" y1="694.60" x2="86.30" y2="697.80" stroke="#555" stroke-width="0.9"/>
<line x1="102.50" y1="694.60" x2="102.50" y2="697.80" stroke="#555" stroke-width="0.9"/>
<line x1="116.50" y1="694.60" x2="116.50" y2="697.80" stroke="#555" stroke-width="0.9"/>
<line x1="131.90" y1="694.60" x2="131.90" y2="697.80" stroke="#555" stroke-width="0.9"/>
<line x1="146.20" y1="694.60" x2="146.20" y2="697.80" stroke="#555" stroke-width="0.9"/>
<text x="86.40" y="712.10" font-size="13.4" text-anchor="middle" fill="#000">3</text>
<text x="116.00" y="712.10" font-size="13.4" text-anchor="middle" fill="#000">30</text>
<text x="149.50" y="712.10" font-size="13.4" text-anchor="middle" fill="#000">300</text>
<text x="118.90" y="625.60" font-size="13.4" text-anchor="middle" fill="#000">13 y</text>
<text x="82.60" y="687.40" font-size="13" text-anchor="start" fill="#000" textLength="51.8" lengthAdjust="spacingAndGlyphs">α =&#160; 2.71</text>
<circle cx="82" cy="633.5" r="1.9" fill="none" stroke="#111" stroke-width="1.1"/>
<circle cx="86.9" cy="633.8" r="1.9" fill="none" stroke="#111" stroke-width="1.1"/>
<path d="M89.50,634.20 C90.32,634.35 92.87,634.58 94.40,635.10 C95.93,635.62 96.72,636.13 98.70,637.30 C100.68,638.47 103.78,640.48 106.30,642.10 C108.82,643.72 111.47,644.93 113.80,647.00 C116.13,649.07 118.67,652.35 120.30,654.50 C121.93,656.65 122.70,658.45 123.60,659.90 C124.50,661.35 124.45,662.12 125.70,663.20 C126.95,664.28 129.48,664.97 131.10,666.40 C132.72,667.83 134.42,670.18 135.40,671.80 C136.38,673.42 136.73,675.38 137.00,676.10" fill="none" stroke="#000" stroke-width="3.8" stroke-linecap="round" stroke-linejoin="round"/>
<path d="M106.30,642.10 C107.55,642.92 111.47,644.93 113.80,647.00 C116.13,649.07 118.67,652.35 120.30,654.50 C121.93,656.65 122.70,658.45 123.60,659.90 C124.50,661.35 124.45,662.12 125.70,663.20 C126.95,664.28 129.48,664.97 131.10,666.40 C132.72,667.83 134.68,670.90 135.40,671.80" fill="none" stroke="#000" stroke-width="5.0" stroke-linecap="round" stroke-linejoin="round"/>
<circle cx="137" cy="680.4" r="1.9" fill="none" stroke="#555" stroke-width="0.9"/>
<circle cx="145.1" cy="684.2" r="1.9" fill="none" stroke="#555" stroke-width="0.9"/>
<circle cx="150.3" cy="691" r="1.9" fill="none" stroke="#555" stroke-width="0.9"/>
<path d="M114.90,648.60 C120.75,656.07 144.15,685.93 150.00,693.40" fill="none" stroke="#CF7450" stroke-width="2.4" stroke-linecap="butt"/>
<line x1="220.20" y1="633.50" x2="302.00" y2="633.50" stroke="#9A9A9A" stroke-width="1.0" stroke-dasharray="2.2,3.2"/>
<line x1="220.20" y1="653.20" x2="302.00" y2="653.20" stroke="#9A9A9A" stroke-width="1.0" stroke-dasharray="2.2,3.2"/>
<line x1="220.20" y1="672.90" x2="302.00" y2="672.90" stroke="#9A9A9A" stroke-width="1.0" stroke-dasharray="2.2,3.2"/>
<line x1="220.20" y1="692.50" x2="302.00" y2="692.50" stroke="#9A9A9A" stroke-width="1.0" stroke-dasharray="2.2,3.2"/>
<line x1="218.20" y1="628.60" x2="218.20" y2="695.80" stroke="#111" stroke-width="1.7"/>
<line x1="217.40" y1="695.00" x2="302.40" y2="695.00" stroke="#111" stroke-width="1.7"/>
<line x1="215.00" y1="633.70" x2="218.20" y2="633.70" stroke="#333" stroke-width="1"/>
<text x="208.80" y="637.80" font-size="9.9" text-anchor="end" fill="#000" textLength="26.2" lengthAdjust="spacingAndGlyphs">1.000</text>
<line x1="215.00" y1="653.50" x2="218.20" y2="653.50" stroke="#333" stroke-width="1"/>
<text x="208.80" y="657.80" font-size="9.9" text-anchor="end" fill="#000" textLength="26.2" lengthAdjust="spacingAndGlyphs">0.100</text>
<line x1="215.00" y1="673.30" x2="218.20" y2="673.30" stroke="#333" stroke-width="1"/>
<text x="208.80" y="677.20" font-size="9.9" text-anchor="end" fill="#000" textLength="26.2" lengthAdjust="spacingAndGlyphs">0.010</text>
<line x1="215.00" y1="693.00" x2="218.20" y2="693.00" stroke="#333" stroke-width="1"/>
<text x="208.80" y="698.30" font-size="9.9" text-anchor="end" fill="#000" textLength="26.2" lengthAdjust="spacingAndGlyphs">0.001</text>
<line x1="225.30" y1="695.00" x2="225.30" y2="698.20" stroke="#555" stroke-width="0.9"/>
<line x1="240.60" y1="695.00" x2="240.60" y2="698.20" stroke="#555" stroke-width="0.9"/>
<line x1="254.70" y1="695.00" x2="254.70" y2="698.20" stroke="#555" stroke-width="0.9"/>
<line x1="270.20" y1="695.00" x2="270.20" y2="698.20" stroke="#555" stroke-width="0.9"/>
<line x1="284.00" y1="695.00" x2="284.00" y2="698.20" stroke="#555" stroke-width="0.9"/>
<text x="225.60" y="713.80" font-size="13.4" text-anchor="middle" fill="#000">3</text>
<text x="257.40" y="713.80" font-size="13.4" text-anchor="middle" fill="#000">30</text>
<text x="286.80" y="713.80" font-size="13.4" text-anchor="middle" fill="#000">300</text>
<text x="259.30" y="625.60" font-size="13.4" text-anchor="middle" fill="#000">23 y</text>
<text x="220.90" y="686.40" font-size="13" text-anchor="start" fill="#000" textLength="53.2" lengthAdjust="spacingAndGlyphs">α =&#160; 2.66</text>
<circle cx="220.2" cy="633.5" r="1.9" fill="none" stroke="#111" stroke-width="1.1"/>
<circle cx="225.8" cy="633.5" r="1.9" fill="none" stroke="#111" stroke-width="1.1"/>
<path d="M229.30,633.90 C229.80,633.97 231.08,633.92 232.30,634.30 C233.52,634.68 234.63,635.35 236.60,636.20 C238.57,637.05 241.58,638.23 244.10,639.40 C246.62,640.57 249.35,641.40 251.70,643.20 C254.05,645.00 256.05,647.77 258.20,650.20 C260.35,652.63 262.45,655.47 264.60,657.80 C266.75,660.13 269.12,661.87 271.10,664.20 C273.08,666.53 275.07,669.63 276.50,671.80 C277.93,673.97 279.17,676.30 279.70,677.20" fill="none" stroke="#000" stroke-width="3.8" stroke-linecap="round" stroke-linejoin="round"/>
<path d="M244.10,639.40 C245.37,640.03 249.35,641.40 251.70,643.20 C254.05,645.00 256.05,647.77 258.20,650.20 C260.35,652.63 262.45,655.47 264.60,657.80 C266.75,660.13 269.12,661.87 271.10,664.20 C273.08,666.53 275.60,670.53 276.50,671.80" fill="none" stroke="#000" stroke-width="5.0" stroke-linecap="round" stroke-linejoin="round"/>
<circle cx="281.4" cy="682.6" r="1.9" fill="none" stroke="#555" stroke-width="0.9"/>
<circle cx="283" cy="686.9" r="1.9" fill="none" stroke="#555" stroke-width="0.9"/>
<circle cx="288.4" cy="692.8" r="1.9" fill="none" stroke="#555" stroke-width="0.9"/>
<path d="M252.80,643.70 C258.73,650.75 282.47,678.95 288.40,686.00" fill="none" stroke="#CF7450" stroke-width="2.4" stroke-linecap="butt"/>
<line x1="356.10" y1="633.50" x2="436.00" y2="633.50" stroke="#9A9A9A" stroke-width="1.0" stroke-dasharray="2.2,3.2"/>
<line x1="356.10" y1="652.40" x2="436.00" y2="652.40" stroke="#9A9A9A" stroke-width="1.0" stroke-dasharray="2.2,3.2"/>
<line x1="356.10" y1="671.30" x2="436.00" y2="671.30" stroke="#9A9A9A" stroke-width="1.0" stroke-dasharray="2.2,3.2"/>
<line x1="356.10" y1="690.40" x2="436.00" y2="690.40" stroke="#9A9A9A" stroke-width="1.0" stroke-dasharray="2.2,3.2"/>
<line x1="354.10" y1="628.40" x2="354.10" y2="695.80" stroke="#111" stroke-width="1.7"/>
<line x1="353.30" y1="695.00" x2="438.00" y2="695.00" stroke="#111" stroke-width="1.7"/>
<line x1="350.90" y1="633.70" x2="354.10" y2="633.70" stroke="#333" stroke-width="1"/>
<text x="343.90" y="637.80" font-size="9.9" text-anchor="end" fill="#000" textLength="26.2" lengthAdjust="spacingAndGlyphs">1.000</text>
<line x1="350.90" y1="653.00" x2="354.10" y2="653.00" stroke="#333" stroke-width="1"/>
<text x="343.90" y="656.70" font-size="9.9" text-anchor="end" fill="#000" textLength="26.2" lengthAdjust="spacingAndGlyphs">0.100</text>
<line x1="350.90" y1="672.10" x2="354.10" y2="672.10" stroke="#333" stroke-width="1"/>
<text x="343.90" y="675.60" font-size="9.9" text-anchor="end" fill="#000" textLength="26.2" lengthAdjust="spacingAndGlyphs">0.010</text>
<line x1="350.90" y1="690.70" x2="354.10" y2="690.70" stroke="#333" stroke-width="1"/>
<text x="343.90" y="694.50" font-size="9.9" text-anchor="end" fill="#000" textLength="26.2" lengthAdjust="spacingAndGlyphs">0.001</text>
<line x1="355.40" y1="695.00" x2="355.40" y2="698.20" stroke="#555" stroke-width="0.9"/>
<line x1="381.50" y1="695.00" x2="381.50" y2="698.20" stroke="#555" stroke-width="0.9"/>
<line x1="408.30" y1="695.00" x2="408.30" y2="698.20" stroke="#555" stroke-width="0.9"/>
<text x="355.70" y="713.50" font-size="13.4" text-anchor="middle" fill="#000">1</text>
<text x="383.30" y="713.50" font-size="13.4" text-anchor="middle" fill="#000">10</text>
<text x="412.90" y="713.50" font-size="13.4" text-anchor="middle" fill="#000">100</text>
<text x="393.30" y="625.60" font-size="13.4" text-anchor="middle" fill="#000">36 y</text>
<circle cx="354.9" cy="633.5" r="1.9" fill="none" stroke="#111" stroke-width="1.1"/>
<circle cx="363.5" cy="633.5" r="1.9" fill="none" stroke="#111" stroke-width="1.1"/>
<circle cx="368.9" cy="633.8" r="1.9" fill="none" stroke="#111" stroke-width="1.1"/>
<path d="M372.70,634.00 C373.77,634.27 376.77,634.78 379.10,635.60 C381.43,636.42 384.00,637.45 386.70,638.90 C389.40,640.35 392.78,642.42 395.30,644.30 C397.82,646.18 399.82,648.13 401.80,650.20 C403.78,652.27 405.40,654.53 407.20,656.70 C409.00,658.87 410.90,661.40 412.60,663.20 C414.30,665.00 416.15,665.53 417.40,667.50 C418.65,669.47 419.20,672.67 420.10,675.00 C421.00,677.33 422.35,680.42 422.80,681.50" fill="none" stroke="#000" stroke-width="3.8" stroke-linecap="round" stroke-linejoin="round"/>
<path d="M395.30,644.30 C396.38,645.28 399.82,648.13 401.80,650.20 C403.78,652.27 405.40,654.53 407.20,656.70 C409.00,658.87 410.90,661.40 412.60,663.20 C414.30,665.00 416.15,665.53 417.40,667.50 C418.65,669.47 419.65,673.75 420.10,675.00" fill="none" stroke="#000" stroke-width="5.0" stroke-linecap="round" stroke-linejoin="round"/>
<circle cx="422.8" cy="686.9" r="1.9" fill="none" stroke="#555" stroke-width="0.9"/>
<circle cx="423.4" cy="692.3" r="1.9" fill="none" stroke="#555" stroke-width="0.9"/>
<path d="M395.30,644.30 C396.92,645.92 401.88,650.55 405.00,654.00 C408.12,657.45 411.50,661.50 414.00,665.00 C416.50,668.50 418.43,671.88 420.00,675.00 C421.57,678.12 422.83,682.25 423.40,683.70" fill="none" stroke="#6E86C8" stroke-width="2.9" stroke-linecap="butt"/>
<line x1="490.20" y1="633.50" x2="572.00" y2="633.50" stroke="#9A9A9A" stroke-width="1.0" stroke-dasharray="2.2,3.2"/>
<line x1="490.20" y1="652.40" x2="572.00" y2="652.40" stroke="#9A9A9A" stroke-width="1.0" stroke-dasharray="2.2,3.2"/>
<line x1="490.20" y1="672.30" x2="572.00" y2="672.30" stroke="#9A9A9A" stroke-width="1.0" stroke-dasharray="2.2,3.2"/>
<line x1="490.20" y1="691.20" x2="572.00" y2="691.20" stroke="#9A9A9A" stroke-width="1.0" stroke-dasharray="2.2,3.2"/>
<line x1="488.20" y1="628.40" x2="488.20" y2="695.80" stroke="#111" stroke-width="1.7"/>
<line x1="487.40" y1="695.00" x2="573.00" y2="695.00" stroke="#111" stroke-width="1.7"/>
<line x1="485.00" y1="633.70" x2="488.20" y2="633.70" stroke="#333" stroke-width="1"/>
<text x="480.40" y="637.80" font-size="9.9" text-anchor="end" fill="#000" textLength="26.2" lengthAdjust="spacingAndGlyphs">1.000</text>
<line x1="485.00" y1="653.00" x2="488.20" y2="653.00" stroke="#333" stroke-width="1"/>
<text x="480.40" y="657.30" font-size="9.9" text-anchor="end" fill="#000" textLength="26.2" lengthAdjust="spacingAndGlyphs">0.100</text>
<line x1="485.00" y1="672.60" x2="488.20" y2="672.60" stroke="#333" stroke-width="1"/>
<text x="480.40" y="676.20" font-size="9.9" text-anchor="end" fill="#000" textLength="26.2" lengthAdjust="spacingAndGlyphs">0.010</text>
<line x1="485.00" y1="691.90" x2="488.20" y2="691.90" stroke="#333" stroke-width="1"/>
<text x="480.40" y="695.00" font-size="9.9" text-anchor="end" fill="#000" textLength="26.2" lengthAdjust="spacingAndGlyphs">0.001</text>
<line x1="491.70" y1="695.00" x2="491.70" y2="698.20" stroke="#555" stroke-width="0.9"/>
<line x1="517.20" y1="695.00" x2="517.20" y2="698.20" stroke="#555" stroke-width="0.9"/>
<line x1="542.40" y1="695.00" x2="542.40" y2="698.20" stroke="#555" stroke-width="0.9"/>
<text x="490.00" y="713.50" font-size="13.4" text-anchor="middle" fill="#000">1</text>
<text x="518.20" y="713.50" font-size="13.4" text-anchor="middle" fill="#000">10</text>
<text x="548.30" y="713.50" font-size="13.4" text-anchor="middle" fill="#000">100</text>
<text x="527.20" y="625.60" font-size="13.4" text-anchor="middle" fill="#000">42 y</text>
<circle cx="492.6" cy="633.5" r="1.9" fill="none" stroke="#111" stroke-width="1.1"/>
<path d="M499.50,633.70 C500.32,633.73 502.98,633.80 504.40,633.90 C505.82,634.00 506.73,634.10 508.00,634.30 C509.27,634.50 510.08,634.60 512.00,635.10 C513.92,635.60 516.80,636.40 519.50,637.30 C522.20,638.20 525.50,638.88 528.20,640.50 C530.90,642.12 533.18,644.67 535.70,647.00 C538.22,649.33 540.97,651.80 543.30,654.50 C545.63,657.20 548.18,660.68 549.70,663.20 C551.22,665.72 551.95,668.53 552.40,669.60" fill="none" stroke="#000" stroke-width="3.8" stroke-linecap="round" stroke-linejoin="round"/>
<path d="M512.00,635.10 C513.25,635.47 516.80,636.40 519.50,637.30 C522.20,638.20 525.50,638.88 528.20,640.50 C530.90,642.12 533.18,644.67 535.70,647.00 C538.22,649.33 540.97,651.80 543.30,654.50 C545.63,657.20 548.63,661.75 549.70,663.20" fill="none" stroke="#000" stroke-width="5.0" stroke-linecap="round" stroke-linejoin="round"/>
<circle cx="554.6" cy="683.7" r="1.9" fill="none" stroke="#555" stroke-width="0.9"/>
<circle cx="555.7" cy="686.9" r="1.9" fill="none" stroke="#555" stroke-width="0.9"/>
<circle cx="560" cy="692.8" r="1.9" fill="none" stroke="#555" stroke-width="0.9"/>
<path d="M528.20,640.00 C530.17,641.67 536.53,646.33 540.00,650.00 C543.47,653.67 546.50,657.50 549.00,662.00 C551.50,666.50 553.17,671.95 555.00,677.00 C556.83,682.05 559.17,689.75 560.00,692.30" fill="none" stroke="#6E86C8" stroke-width="2.9" stroke-linecap="butt"/>
<line x1="624.50" y1="633.20" x2="707.00" y2="633.20" stroke="#9A9A9A" stroke-width="1.0" stroke-dasharray="2.2,3.2"/>
<line x1="624.50" y1="653.20" x2="707.00" y2="653.20" stroke="#9A9A9A" stroke-width="1.0" stroke-dasharray="2.2,3.2"/>
<line x1="624.50" y1="672.90" x2="707.00" y2="672.90" stroke="#9A9A9A" stroke-width="1.0" stroke-dasharray="2.2,3.2"/>
<line x1="624.50" y1="692.50" x2="707.00" y2="692.50" stroke="#9A9A9A" stroke-width="1.0" stroke-dasharray="2.2,3.2"/>
<line x1="622.50" y1="628.40" x2="622.50" y2="695.80" stroke="#111" stroke-width="1.7"/>
<line x1="621.70" y1="695.00" x2="707.40" y2="695.00" stroke="#111" stroke-width="1.7"/>
<line x1="619.30" y1="633.70" x2="622.50" y2="633.70" stroke="#333" stroke-width="1"/>
<text x="615.90" y="638.90" font-size="9.9" text-anchor="end" fill="#000" textLength="26.2" lengthAdjust="spacingAndGlyphs">1.000</text>
<line x1="619.30" y1="653.50" x2="622.50" y2="653.50" stroke="#333" stroke-width="1"/>
<text x="615.90" y="657.80" font-size="9.9" text-anchor="end" fill="#000" textLength="26.2" lengthAdjust="spacingAndGlyphs">0.100</text>
<line x1="619.30" y1="673.30" x2="622.50" y2="673.30" stroke="#333" stroke-width="1"/>
<text x="615.90" y="676.20" font-size="9.9" text-anchor="end" fill="#000" textLength="26.2" lengthAdjust="spacingAndGlyphs">0.010</text>
<line x1="619.30" y1="692.60" x2="622.50" y2="692.60" stroke="#333" stroke-width="1"/>
<text x="615.90" y="695.00" font-size="9.9" text-anchor="end" fill="#000" textLength="26.2" lengthAdjust="spacingAndGlyphs">0.001</text>
<line x1="631.50" y1="695.00" x2="631.50" y2="698.20" stroke="#555" stroke-width="0.9"/>
<line x1="646.60" y1="695.00" x2="646.60" y2="698.20" stroke="#555" stroke-width="0.9"/>
<line x1="660.60" y1="695.00" x2="660.60" y2="698.20" stroke="#555" stroke-width="0.9"/>
<line x1="675.20" y1="695.00" x2="675.20" y2="698.20" stroke="#555" stroke-width="0.9"/>
<line x1="689.20" y1="695.00" x2="689.20" y2="698.20" stroke="#555" stroke-width="0.9"/>
<text x="632.80" y="710.10" font-size="13.4" text-anchor="middle" fill="#000">3</text>
<text x="663.00" y="710.10" font-size="13.4" text-anchor="middle" fill="#000">30</text>
<text x="695.20" y="710.10" font-size="13.4" text-anchor="middle" fill="#000">300</text>
<text x="662.30" y="625.60" font-size="13.4" text-anchor="middle" fill="#000">59 y</text>
<circle cx="626.1" cy="633" r="1.9" fill="none" stroke="#111" stroke-width="1.1"/>
<circle cx="631" cy="633" r="1.9" fill="none" stroke="#111" stroke-width="1.1"/>
<path d="M634.20,633.10 C634.65,633.13 635.65,633.20 636.90,633.30 C638.15,633.40 639.45,633.40 641.70,633.70 C643.95,634.00 647.52,634.23 650.40,635.10 C653.28,635.97 656.13,637.28 659.00,638.90 C661.87,640.52 664.90,642.73 667.60,644.80 C670.30,646.87 673.03,648.97 675.20,651.30 C677.37,653.63 678.98,656.28 680.60,658.80 C682.22,661.32 683.92,664.05 684.90,666.40 C685.88,668.75 686.23,671.82 686.50,672.90" fill="none" stroke="#000" stroke-width="3.8" stroke-linecap="round" stroke-linejoin="round"/>
<path d="M650.40,635.10 C651.83,635.73 656.13,637.28 659.00,638.90 C661.87,640.52 664.90,642.73 667.60,644.80 C670.30,646.87 673.03,648.97 675.20,651.30 C677.37,653.63 678.98,656.28 680.60,658.80 C682.22,661.32 684.18,665.13 684.90,666.40" fill="none" stroke="#000" stroke-width="5.0" stroke-linecap="round" stroke-linejoin="round"/>
<circle cx="687" cy="679.4" r="1.9" fill="none" stroke="#555" stroke-width="0.9"/>
<circle cx="689.2" cy="682.6" r="1.9" fill="none" stroke="#555" stroke-width="0.9"/>
<circle cx="692.5" cy="686" r="1.9" fill="none" stroke="#555" stroke-width="0.9"/>
<circle cx="694.1" cy="691.8" r="1.9" fill="none" stroke="#555" stroke-width="0.9"/>
<path d="M657.90,637.80 C659.92,639.00 666.32,641.97 670.00,645.00 C673.68,648.03 677.00,651.83 680.00,656.00 C683.00,660.17 685.65,665.12 688.00,670.00 C690.35,674.88 693.08,682.75 694.10,685.30" fill="none" stroke="#6E86C8" stroke-width="2.9" stroke-linecap="butt"/>
<line x1="751.10" y1="632.70" x2="824.30" y2="632.70" stroke="#9A9A9A" stroke-width="1.0" stroke-dasharray="2.2,3.2"/>
<line x1="751.10" y1="653.50" x2="824.30" y2="653.50" stroke="#9A9A9A" stroke-width="1.0" stroke-dasharray="2.2,3.2"/>
<line x1="751.10" y1="674.50" x2="824.30" y2="674.50" stroke="#9A9A9A" stroke-width="1.0" stroke-dasharray="2.2,3.2"/>
<line x1="749.10" y1="627.60" x2="749.10" y2="695.80" stroke="#111" stroke-width="1.7"/>
<line x1="748.30" y1="695.00" x2="831.90" y2="695.00" stroke="#111" stroke-width="1.7"/>
<line x1="745.90" y1="632.70" x2="749.10" y2="632.70" stroke="#333" stroke-width="1"/>
<text x="740.20" y="640.00" font-size="12.2" text-anchor="end" fill="#000" textLength="23.2" lengthAdjust="spacingAndGlyphs">1.00</text>
<line x1="745.90" y1="653.70" x2="749.10" y2="653.70" stroke="#333" stroke-width="1"/>
<text x="740.20" y="659.40" font-size="12.2" text-anchor="end" fill="#000" textLength="23.2" lengthAdjust="spacingAndGlyphs">0.10</text>
<line x1="745.90" y1="674.60" x2="749.10" y2="674.60" stroke="#333" stroke-width="1"/>
<text x="740.20" y="680.00" font-size="12.2" text-anchor="end" fill="#000" textLength="23.2" lengthAdjust="spacingAndGlyphs">0.01</text>
<line x1="757.10" y1="695.00" x2="757.10" y2="698.20" stroke="#555" stroke-width="0.9"/>
<line x1="771.40" y1="695.00" x2="771.40" y2="698.20" stroke="#555" stroke-width="0.9"/>
<line x1="784.70" y1="695.00" x2="784.70" y2="698.20" stroke="#555" stroke-width="0.9"/>
<line x1="798.40" y1="695.00" x2="798.40" y2="698.20" stroke="#555" stroke-width="0.9"/>
<line x1="811.40" y1="695.00" x2="811.40" y2="698.20" stroke="#555" stroke-width="0.9"/>
<text x="759.30" y="713.00" font-size="13.4" text-anchor="middle" fill="#000">3</text>
<text x="790.30" y="713.00" font-size="13.4" text-anchor="middle" fill="#000">30</text>
<text x="819.00" y="713.00" font-size="13.4" text-anchor="middle" fill="#000">300</text>
<text x="789.20" y="625.60" font-size="13.4" text-anchor="middle" fill="#000">67 y</text>
<circle cx="752.8" cy="632.7" r="1.9" fill="none" stroke="#111" stroke-width="1.1"/>
<circle cx="757.4" cy="632.7" r="1.9" fill="none" stroke="#111" stroke-width="1.1"/>
<path d="M761.20,633.00 C761.75,633.03 763.25,633.10 764.50,633.20 C765.75,633.30 766.55,633.28 768.70,633.60 C770.85,633.92 774.52,634.22 777.40,635.10 C780.28,635.98 782.95,637.37 786.00,638.90 C789.05,640.43 792.82,642.42 795.70,644.30 C798.58,646.18 801.13,648.13 803.30,650.20 C805.47,652.27 807.45,654.37 808.70,656.70 C809.95,659.03 809.73,661.68 810.80,664.20 C811.87,666.72 813.75,669.27 815.10,671.80 C816.45,674.33 818.27,678.13 818.90,679.40" fill="none" stroke="#000" stroke-width="3.8" stroke-linecap="round" stroke-linejoin="round"/>
<path d="M777.40,635.10 C778.83,635.73 782.95,637.37 786.00,638.90 C789.05,640.43 792.82,642.42 795.70,644.30 C798.58,646.18 801.13,648.13 803.30,650.20 C805.47,652.27 807.45,654.37 808.70,656.70 C809.95,659.03 809.73,661.68 810.80,664.20 C811.87,666.72 814.38,670.53 815.10,671.80" fill="none" stroke="#000" stroke-width="5.0" stroke-linecap="round" stroke-linejoin="round"/>
<circle cx="819.5" cy="682.6" r="1.9" fill="none" stroke="#555" stroke-width="0.9"/>
<circle cx="819.5" cy="685.8" r="1.9" fill="none" stroke="#555" stroke-width="0.9"/>
<circle cx="820.5" cy="691.8" r="1.9" fill="none" stroke="#555" stroke-width="0.9"/>
<path d="M781.70,635.60 C783.92,636.83 791.12,640.27 795.00,643.00 C798.88,645.73 802.17,648.50 805.00,652.00 C807.83,655.50 809.50,658.90 812.00,664.00 C814.50,669.10 818.67,679.50 820.00,682.60" fill="none" stroke="#6E86C8" stroke-width="2.9" stroke-linecap="butt"/>
<text x="45.50" y="498.60" font-size="19" text-anchor="start" fill="#000" style="stroke-width:0.55px">E</text>
<text x="45.50" y="614.80" font-size="19" text-anchor="start" fill="#000" style="stroke-width:0.55px">F</text>
<text x="452.70" y="606.50" font-size="13.5" text-anchor="middle" fill="#000" textLength="158.8" lengthAdjust="spacingAndGlyphs">Patch size of lichens (mm)</text>
<text x="452.60" y="729.50" font-size="13.5" text-anchor="middle" fill="#000" textLength="163" lengthAdjust="spacingAndGlyphs">Patch size of mosses (mm)</text>
<text x="36.60" y="597.30" font-size="13.5" text-anchor="middle" fill="#000" transform="rotate(-90 36.6 597.3)" textLength="148" lengthAdjust="spacingAndGlyphs">Accumulative Frequency</text>
</svg></body></html>
